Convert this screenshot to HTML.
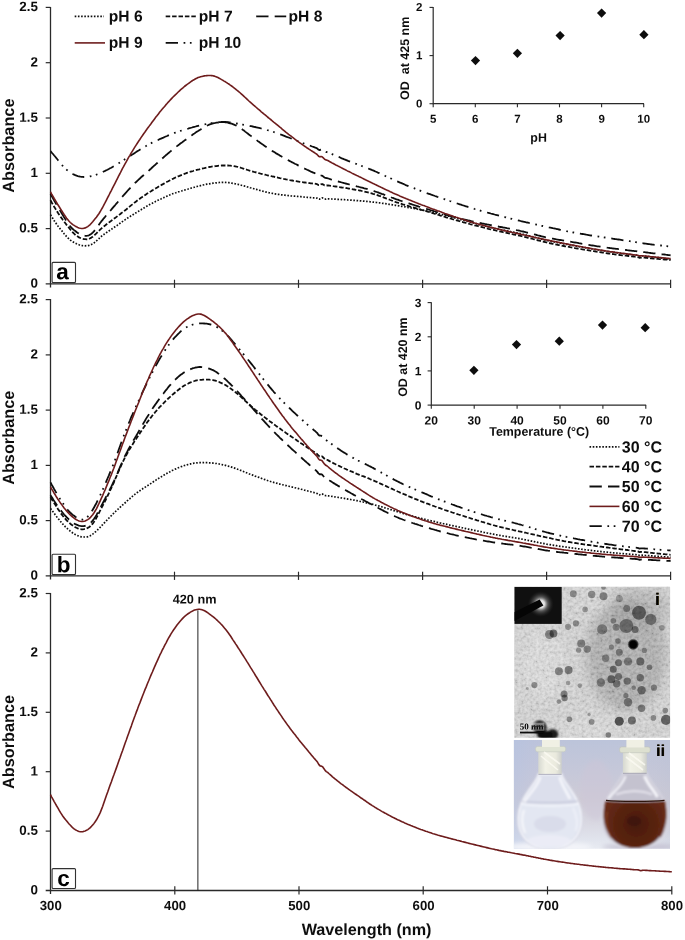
<!DOCTYPE html>
<html><head><meta charset="utf-8"><title>UV-Vis spectra</title>
<style>
html,body{margin:0;padding:0;background:#fff;}
body{width:685px;height:940px;position:relative;overflow:hidden;font-family:"Liberation Sans", sans-serif;}
</style></head><body>
<svg width="685" height="940" viewBox="0 0 685 940" style="position:absolute;left:0;top:0;font-family:'Liberation Sans', sans-serif;text-rendering:geometricPrecision">
<defs>
<filter id="soft" x="0" y="0" width="685" height="940" filterUnits="userSpaceOnUse"><feGaussianBlur stdDeviation="0.3"/></filter>
<filter id="b03" x="-20%" y="-20%" width="140%" height="140%"><feGaussianBlur stdDeviation="0.35"/></filter>
<filter id="b06" x="-30%" y="-30%" width="160%" height="160%"><feGaussianBlur stdDeviation="0.7"/></filter>
<filter id="b1" x="-30%" y="-30%" width="160%" height="160%"><feGaussianBlur stdDeviation="1.1"/></filter>
<filter id="b2" x="-30%" y="-30%" width="160%" height="160%"><feGaussianBlur stdDeviation="2.2"/></filter>
<filter id="b5" x="-50%" y="-50%" width="200%" height="200%"><feGaussianBlur stdDeviation="6"/></filter>
<filter id="noiseG" x="0" y="0" width="100%" height="100%">
  <feTurbulence type="fractalNoise" baseFrequency="0.33" numOctaves="2" seed="11"/>
  <feColorMatrix type="matrix" values="1.5 0 0 0 -0.25  1.5 0 0 0 -0.25  1.5 0 0 0 -0.25  0 0 0 0 1"/>
</filter>
<clipPath id="temclip"><rect x="514.3" y="586.8" width="155.8" height="151.0"/></clipPath>
<clipPath id="flclip"><rect x="513.9" y="740.0" width="156.1" height="108.8"/></clipPath>
<radialGradient id="glow" cx="540.8" cy="604.0" r="13" gradientUnits="userSpaceOnUse">
  <stop offset="0" stop-color="#fff" stop-opacity="1"/><stop offset="0.3" stop-color="#fff" stop-opacity="0.85"/>
  <stop offset="0.55" stop-color="#aaa" stop-opacity="0.45"/><stop offset="1" stop-color="#333" stop-opacity="0"/>
</radialGradient>
<linearGradient id="flbg" x1="0" y1="740" x2="0" y2="849" gradientUnits="userSpaceOnUse">
  <stop offset="0" stop-color="#bcc4da"/><stop offset="0.3" stop-color="#c6c8d9"/><stop offset="0.55" stop-color="#cfccd6"/>
  <stop offset="0.75" stop-color="#d8d7e1"/><stop offset="0.9" stop-color="#e0e3ec"/><stop offset="1" stop-color="#e8ebf2"/>
</linearGradient>
<linearGradient id="flbgx" x1="514" y1="0" x2="670" y2="0" gradientUnits="userSpaceOnUse">
  <stop offset="0" stop-color="#b2c2e4" stop-opacity="0.45"/><stop offset="0.35" stop-color="#c8c0d8" stop-opacity="0.0"/>
  <stop offset="0.8" stop-color="#c0c2d2" stop-opacity="0.0"/><stop offset="1" stop-color="#bcc0d2" stop-opacity="0.35"/>
</linearGradient>
<radialGradient id="brown" cx="636" cy="824" r="36" gradientUnits="userSpaceOnUse">
  <stop offset="0" stop-color="#48190c"/><stop offset="0.6" stop-color="#5a2411"/><stop offset="1" stop-color="#6a2c15"/>
</radialGradient>
<linearGradient id="stop1" x1="0" y1="0" x2="1" y2="0">
  <stop offset="0" stop-color="#d6d8d0"/><stop offset="0.3" stop-color="#f1f1e6"/><stop offset="0.75" stop-color="#eaeade"/><stop offset="1" stop-color="#cdcfca"/>
</linearGradient>
</defs>

<rect width="685" height="940" fill="#fff"/>
<g filter="url(#soft)">
<path d="M50.5 6.9 V287.5" stroke="#2a2a2a" stroke-width="1.3" fill="none"/>
<path d="M45.7 283.9 H670.6" stroke="#2a2a2a" stroke-width="1.3" fill="none"/>
<text transform="rotate(0.05 37.9 287.6)" x="37.9" y="287.6" font-size="13.4" font-weight="bold" text-anchor="end" fill="#111">0</text>
<path d="M45.7 228.6 H50.5" stroke="#2a2a2a" stroke-width="1.2" fill="none"/>
<text transform="rotate(0.05 37.9 232.3)" x="37.9" y="232.3" font-size="13.4" font-weight="bold" text-anchor="end" fill="#111">0.5</text>
<path d="M45.7 173.3 H50.5" stroke="#2a2a2a" stroke-width="1.2" fill="none"/>
<text transform="rotate(0.05 37.9 177.0)" x="37.9" y="177.0" font-size="13.4" font-weight="bold" text-anchor="end" fill="#111">1</text>
<path d="M45.7 118.0 H50.5" stroke="#2a2a2a" stroke-width="1.2" fill="none"/>
<text transform="rotate(0.05 37.9 121.7)" x="37.9" y="121.7" font-size="13.4" font-weight="bold" text-anchor="end" fill="#111">1.5</text>
<path d="M45.7 62.7 H50.5" stroke="#2a2a2a" stroke-width="1.2" fill="none"/>
<text transform="rotate(0.05 37.9 66.4)" x="37.9" y="66.4" font-size="13.4" font-weight="bold" text-anchor="end" fill="#111">2</text>
<path d="M45.7 7.4 H50.5" stroke="#2a2a2a" stroke-width="1.2" fill="none"/>
<text transform="rotate(0.05 37.9 11.1)" x="37.9" y="11.1" font-size="13.4" font-weight="bold" text-anchor="end" fill="#111">2.5</text>
<path d="M174.5 279.7 V287.9" stroke="#2a2a2a" stroke-width="1.2" fill="none"/>
<path d="M298.5 279.7 V287.9" stroke="#2a2a2a" stroke-width="1.2" fill="none"/>
<path d="M422.6 279.7 V287.9" stroke="#2a2a2a" stroke-width="1.2" fill="none"/>
<path d="M546.6 279.7 V287.9" stroke="#2a2a2a" stroke-width="1.2" fill="none"/>
<path d="M670.6 279.7 V287.9" stroke="#2a2a2a" stroke-width="1.2" fill="none"/>
<text transform="translate(13.6 145.6) rotate(-90)" font-size="16.3" font-weight="bold" text-anchor="middle" fill="#111">Absorbance</text>
<path d="M50.5 299.1 V579.5" stroke="#2a2a2a" stroke-width="1.3" fill="none"/>
<path d="M45.7 575.9 H670.6" stroke="#2a2a2a" stroke-width="1.3" fill="none"/>
<text transform="rotate(0.05 37.9 579.6)" x="37.9" y="579.6" font-size="13.4" font-weight="bold" text-anchor="end" fill="#111">0</text>
<path d="M45.7 520.6 H50.5" stroke="#2a2a2a" stroke-width="1.2" fill="none"/>
<text transform="rotate(0.05 37.9 524.3)" x="37.9" y="524.3" font-size="13.4" font-weight="bold" text-anchor="end" fill="#111">0.5</text>
<path d="M45.7 465.4 H50.5" stroke="#2a2a2a" stroke-width="1.2" fill="none"/>
<text transform="rotate(0.05 37.9 469.1)" x="37.9" y="469.1" font-size="13.4" font-weight="bold" text-anchor="end" fill="#111">1</text>
<path d="M45.7 410.1 H50.5" stroke="#2a2a2a" stroke-width="1.2" fill="none"/>
<text transform="rotate(0.05 37.9 413.8)" x="37.9" y="413.8" font-size="13.4" font-weight="bold" text-anchor="end" fill="#111">1.5</text>
<path d="M45.7 354.9 H50.5" stroke="#2a2a2a" stroke-width="1.2" fill="none"/>
<text transform="rotate(0.05 37.9 358.6)" x="37.9" y="358.6" font-size="13.4" font-weight="bold" text-anchor="end" fill="#111">2</text>
<path d="M45.7 299.6 H50.5" stroke="#2a2a2a" stroke-width="1.2" fill="none"/>
<text transform="rotate(0.05 37.9 303.3)" x="37.9" y="303.3" font-size="13.4" font-weight="bold" text-anchor="end" fill="#111">2.5</text>
<path d="M174.5 571.7 V579.9" stroke="#2a2a2a" stroke-width="1.2" fill="none"/>
<path d="M298.5 571.7 V579.9" stroke="#2a2a2a" stroke-width="1.2" fill="none"/>
<path d="M422.6 571.7 V579.9" stroke="#2a2a2a" stroke-width="1.2" fill="none"/>
<path d="M546.6 571.7 V579.9" stroke="#2a2a2a" stroke-width="1.2" fill="none"/>
<path d="M670.6 571.7 V579.9" stroke="#2a2a2a" stroke-width="1.2" fill="none"/>
<text transform="translate(13.6 437.8) rotate(-90)" font-size="16.3" font-weight="bold" text-anchor="middle" fill="#111">Absorbance</text>
<path d="M50.5 593.0 V894.1" stroke="#2a2a2a" stroke-width="1.3" fill="none"/>
<path d="M45.7 890.5 H671.8" stroke="#2a2a2a" stroke-width="1.3" fill="none"/>
<text transform="rotate(0.05 37.9 894.2)" x="37.9" y="894.2" font-size="13.4" font-weight="bold" text-anchor="end" fill="#111">0</text>
<path d="M45.7 831.1 H50.5" stroke="#2a2a2a" stroke-width="1.2" fill="none"/>
<text transform="rotate(0.05 37.9 834.8)" x="37.9" y="834.8" font-size="13.4" font-weight="bold" text-anchor="end" fill="#111">0.5</text>
<path d="M45.7 771.7 H50.5" stroke="#2a2a2a" stroke-width="1.2" fill="none"/>
<text transform="rotate(0.05 37.9 775.4)" x="37.9" y="775.4" font-size="13.4" font-weight="bold" text-anchor="end" fill="#111">1</text>
<path d="M45.7 712.3 H50.5" stroke="#2a2a2a" stroke-width="1.2" fill="none"/>
<text transform="rotate(0.05 37.9 716.0)" x="37.9" y="716.0" font-size="13.4" font-weight="bold" text-anchor="end" fill="#111">1.5</text>
<path d="M45.7 652.9 H50.5" stroke="#2a2a2a" stroke-width="1.2" fill="none"/>
<text transform="rotate(0.05 37.9 656.6)" x="37.9" y="656.6" font-size="13.4" font-weight="bold" text-anchor="end" fill="#111">2</text>
<path d="M45.7 593.5 H50.5" stroke="#2a2a2a" stroke-width="1.2" fill="none"/>
<text transform="rotate(0.05 37.9 597.2)" x="37.9" y="597.2" font-size="13.4" font-weight="bold" text-anchor="end" fill="#111">2.5</text>
<path d="M174.8 886.3 V894.5" stroke="#2a2a2a" stroke-width="1.2" fill="none"/>
<path d="M299.0 886.3 V894.5" stroke="#2a2a2a" stroke-width="1.2" fill="none"/>
<path d="M423.2 886.3 V894.5" stroke="#2a2a2a" stroke-width="1.2" fill="none"/>
<path d="M547.5 886.3 V894.5" stroke="#2a2a2a" stroke-width="1.2" fill="none"/>
<path d="M671.8 886.3 V894.5" stroke="#2a2a2a" stroke-width="1.2" fill="none"/>
<text transform="translate(13.6 742.0) rotate(-90)" font-size="16.3" font-weight="bold" text-anchor="middle" fill="#111">Absorbance</text>
<text transform="rotate(0.05 50.8 910.0)" x="50.8" y="910.0" font-size="13.2" font-weight="bold" text-anchor="middle" fill="#111">300</text>
<text transform="rotate(0.05 175.1 910.0)" x="175.1" y="910.0" font-size="13.2" font-weight="bold" text-anchor="middle" fill="#111">400</text>
<text transform="rotate(0.05 299.3 910.0)" x="299.3" y="910.0" font-size="13.2" font-weight="bold" text-anchor="middle" fill="#111">500</text>
<text transform="rotate(0.05 423.6 910.0)" x="423.6" y="910.0" font-size="13.2" font-weight="bold" text-anchor="middle" fill="#111">600</text>
<text transform="rotate(0.05 547.8 910.0)" x="547.8" y="910.0" font-size="13.2" font-weight="bold" text-anchor="middle" fill="#111">700</text>
<text transform="rotate(0.05 672.0 910.0)" x="672.0" y="910.0" font-size="13.2" font-weight="bold" text-anchor="middle" fill="#111">800</text>
<text transform="rotate(0.05 366.6 935.1)" x="366.6" y="935.1" font-size="16.2" font-weight="bold" text-anchor="middle" fill="#111">Wavelength (nm)</text>
<path d="M50.5,214.8 L51.7,216.8 L53.0,218.7 L54.2,220.7 L55.5,222.5 L56.7,224.3 L57.9,226.0 L59.2,227.6 L60.4,229.1 L61.7,230.6 L62.9,232.1 L64.1,233.7 L65.4,235.2 L66.6,236.6 L67.9,237.9 L69.1,239.1 L70.3,240.1 L71.6,241.0 L72.8,241.8 L74.1,242.5 L75.3,243.1 L76.5,243.7 L77.8,244.3 L79.0,244.8 L80.3,245.2 L81.5,245.5 L82.7,245.7 L84.0,245.8 L85.2,245.8 L86.5,245.7 L87.7,245.6 L88.9,245.4 L90.2,245.0 L91.4,244.4 L92.7,243.8 L93.9,243.0 L95.1,242.0 L96.4,241.0 L97.6,239.8 L98.9,238.6 L100.1,237.4 L101.3,236.4 L102.6,235.4 L103.8,234.5 L105.1,233.6 L106.3,232.7 L107.5,231.9 L108.8,231.0 L110.0,230.2 L111.3,229.4 L112.5,228.5 L113.8,227.7 L115.0,226.8 L116.2,226.0 L117.5,225.1 L118.7,224.2 L120.0,223.3 L121.2,222.5 L122.4,221.6 L123.7,220.7 L124.9,219.9 L126.2,219.1 L127.4,218.2 L128.6,217.4 L129.9,216.6 L131.1,215.8 L132.4,215.1 L133.6,214.3 L134.8,213.5 L136.1,212.7 L137.3,212.0 L138.6,211.2 L139.8,210.4 L141.0,209.7 L142.3,208.9 L143.5,208.2 L144.8,207.4 L146.0,206.7 L147.2,206.0 L148.5,205.3 L149.7,204.6 L151.0,203.9 L152.2,203.3 L153.4,202.6 L154.7,202.0 L155.9,201.3 L157.2,200.7 L158.4,200.1 L159.6,199.5 L160.9,198.9 L162.1,198.3 L163.4,197.8 L164.6,197.2 L165.8,196.6 L167.1,196.1 L168.3,195.5 L169.6,195.0 L170.8,194.5 L172.0,194.0 L173.3,193.5 L174.5,193.1 L175.8,192.7 L177.0,192.3 L178.2,191.9 L179.5,191.5 L180.7,191.1 L182.0,190.8 L183.2,190.4 L184.4,190.1 L185.7,189.7 L186.9,189.4 L188.2,189.0 L189.4,188.6 L190.6,188.3 L191.9,187.9 L193.1,187.6 L194.4,187.2 L195.6,186.9 L196.8,186.5 L198.1,186.2 L199.3,185.9 L200.6,185.6 L201.8,185.3 L203.0,185.0 L204.3,184.7 L205.5,184.5 L206.8,184.2 L208.0,184.0 L209.2,183.8 L210.5,183.6 L211.7,183.4 L213.0,183.2 L214.2,183.1 L215.4,182.9 L216.7,182.8 L217.9,182.6 L219.2,182.5 L220.4,182.4 L221.6,182.4 L222.9,182.3 L224.1,182.3 L225.4,182.4 L226.6,182.5 L227.8,182.6 L229.1,182.7 L230.3,182.9 L231.6,183.1 L232.8,183.3 L234.0,183.6 L235.3,183.8 L236.5,184.1 L237.8,184.3 L239.0,184.6 L240.3,184.9 L241.5,185.3 L242.7,185.6 L244.0,185.9 L245.2,186.3 L246.5,186.6 L247.7,187.0 L248.9,187.3 L250.2,187.7 L251.4,188.0 L252.7,188.4 L253.9,188.7 L255.1,189.1 L256.4,189.4 L257.6,189.8 L258.9,190.1 L260.1,190.5 L261.3,190.8 L262.6,191.1 L263.8,191.5 L265.1,191.8 L266.3,192.1 L267.5,192.4 L268.8,192.7 L270.0,192.9 L271.3,193.2 L272.5,193.4 L273.7,193.7 L275.0,193.9 L276.2,194.1 L277.5,194.3 L278.7,194.4 L279.9,194.6 L281.2,194.8 L282.4,194.9 L283.7,195.1 L284.9,195.2 L286.1,195.4 L287.4,195.5 L288.6,195.6 L289.9,195.7 L291.1,195.9 L292.3,196.0 L293.6,196.1 L294.8,196.2 L296.1,196.3 L297.3,196.4 L298.5,196.5 L299.8,196.6 L301.0,196.7 L302.3,196.9 L303.5,197.0 L304.7,197.1 L306.0,197.2 L307.2,197.3 L308.5,197.4 L309.7,197.5 L310.9,197.6 L312.2,197.7 L313.4,197.8 L314.7,197.9 L315.9,198.0 L317.1,198.2 L318.4,199.1 L319.6,199.2 L320.9,198.2 L322.1,197.8 L323.3,198.3 L324.6,199.0 L325.8,199.1 L327.1,198.8 L328.3,198.8 L329.5,198.9 L330.8,199.0 L332.0,199.0 L333.3,199.1 L334.5,199.2 L335.7,199.2 L337.0,199.3 L338.2,199.4 L339.5,199.4 L340.7,199.5 L341.9,199.6 L343.2,199.7 L344.4,199.7 L345.7,199.8 L346.9,199.9 L348.1,200.0 L349.4,200.0 L350.6,200.1 L351.9,200.2 L353.1,200.3 L354.3,200.4 L355.6,200.5 L356.8,200.6 L358.1,200.7 L359.3,200.8 L360.6,200.9 L361.8,201.0 L363.0,201.1 L364.3,201.2 L365.5,201.3 L366.8,201.4 L368.0,201.5 L369.2,201.7 L370.5,201.8 L371.7,201.9 L373.0,202.1 L374.2,202.2 L375.4,202.4 L376.7,202.5 L377.9,202.7 L379.2,202.8 L380.4,203.0 L381.6,203.2 L382.9,203.4 L384.1,203.5 L385.4,203.7 L386.6,203.9 L387.8,204.1 L389.1,204.3 L390.3,204.5 L391.6,204.7 L392.8,204.9 L394.0,205.1 L395.3,205.3 L396.5,205.5 L397.8,205.7 L399.0,205.9 L400.2,206.1 L401.5,206.3 L402.7,206.5 L404.0,206.7 L405.2,206.9 L406.4,207.2 L407.7,207.4 L408.9,207.6 L410.2,207.8 L411.4,208.0 L412.6,208.2 L413.9,208.5 L415.1,208.7 L416.4,208.9 L417.6,209.2 L418.8,209.4 L420.1,209.6 L421.3,209.9 L422.6,210.1 L423.8,210.4 L425.0,210.6 L426.3,210.9 L427.5,211.2 L428.8,211.4 L430.0,211.7 L431.2,212.0 L432.5,212.3 L433.7,212.6 L435.0,212.8 L436.2,213.1 L437.4,213.4 L438.7,213.7 L439.9,214.0 L441.2,214.3 L442.4,214.6 L443.6,214.9 L444.9,215.3 L446.1,215.6 L447.4,215.9 L448.6,216.2 L449.8,216.5 L451.1,216.9 L452.3,217.2 L453.6,217.5 L454.8,217.9 L456.0,218.2 L457.3,218.5 L458.5,218.9 L459.8,219.2 L461.0,219.6 L462.2,219.9 L463.5,220.2 L464.7,220.6 L466.0,220.9 L467.2,221.3 L468.4,221.6 L469.7,222.0 L470.9,222.3 L472.2,222.6 L473.4,223.0 L474.6,223.3 L475.9,223.6 L477.1,223.9 L478.4,224.3 L479.6,224.6 L480.8,224.9 L482.1,225.2 L483.3,225.6 L484.6,225.9 L485.8,226.2 L487.1,226.5 L488.3,226.8 L489.5,227.1 L490.8,227.4 L492.0,227.7 L493.3,228.0 L494.5,228.3 L495.7,228.5 L497.0,228.8 L498.2,229.1 L499.5,229.3 L500.7,229.6 L501.9,229.9 L503.2,230.1 L504.4,230.3 L505.7,230.6 L506.9,230.8 L508.1,231.1 L509.4,231.3 L510.6,231.6 L511.9,231.8 L513.1,232.0 L514.3,232.3 L515.6,232.5 L516.8,232.8 L518.1,233.1 L519.3,233.3 L520.5,233.6 L521.8,233.9 L523.0,234.2 L524.3,234.5 L525.5,234.8 L526.7,235.2 L528.0,235.5 L529.2,235.8 L530.5,236.2 L531.7,236.5 L532.9,236.8 L534.2,237.2 L535.4,237.5 L536.7,237.9 L537.9,238.2 L539.1,238.5 L540.4,238.9 L541.6,239.2 L542.9,239.5 L544.1,239.8 L545.3,240.1 L546.6,240.4 L547.8,240.7 L549.1,241.0 L550.3,241.3 L551.5,241.5 L552.8,241.8 L554.0,242.0 L555.3,242.3 L556.5,242.5 L557.7,242.7 L559.0,243.0 L560.2,243.2 L561.5,243.4 L562.7,243.6 L563.9,243.9 L565.2,244.1 L566.4,244.3 L567.7,244.5 L568.9,244.7 L570.1,245.0 L571.4,245.2 L572.6,245.4 L573.9,245.6 L575.1,245.9 L576.3,246.1 L577.6,246.3 L578.8,246.5 L580.1,246.8 L581.3,247.0 L582.5,247.2 L583.8,247.4 L585.0,247.7 L586.3,247.9 L587.5,248.1 L588.7,248.3 L590.0,248.6 L591.2,248.8 L592.5,249.0 L593.7,249.2 L594.9,249.4 L596.2,249.6 L597.4,249.8 L598.7,250.0 L599.9,250.2 L601.1,250.4 L602.4,250.6 L603.6,250.8 L604.9,251.0 L606.1,251.2 L607.3,251.4 L608.6,251.5 L609.8,251.7 L611.1,251.9 L612.3,252.1 L613.6,252.3 L614.8,252.4 L616.0,252.6 L617.3,252.8 L618.5,252.9 L619.8,253.1 L621.0,253.3 L622.2,253.4 L623.5,253.6 L624.7,253.7 L626.0,253.9 L627.2,254.0 L628.4,254.2 L629.7,254.3 L630.9,254.5 L632.2,254.6 L633.4,254.8 L634.6,254.9 L635.9,255.1 L637.1,255.2 L638.4,255.6 L639.6,256.2 L640.8,255.9 L642.1,255.8 L643.3,256.0 L644.6,256.1 L645.8,256.3 L647.0,256.4 L648.3,256.5 L649.5,256.7 L650.8,256.8 L652.0,257.0 L653.2,257.1 L654.5,257.3 L655.7,257.4 L657.0,257.6 L658.2,257.7 L659.4,257.9 L660.7,258.0 L661.9,258.2 L663.2,258.3 L664.4,258.5 L665.6,258.6 L666.9,258.8 L668.1,258.9 L669.4,259.1 L670.6,259.2" fill="none" stroke="#111" stroke-width="1.7" stroke-dasharray="1.6 1.6" stroke-linejoin="round"/>
<path d="M50.5,200.3 L51.7,202.5 L53.0,204.7 L54.2,206.8 L55.5,208.9 L56.7,210.9 L57.9,212.8 L59.2,214.7 L60.4,216.5 L61.7,218.3 L62.9,220.0 L64.1,221.6 L65.4,223.3 L66.6,224.9 L67.9,226.4 L69.1,227.9 L70.3,229.5 L71.6,230.9 L72.8,232.4 L74.1,233.7 L75.3,234.8 L76.5,235.8 L77.8,236.6 L79.0,237.4 L80.3,238.0 L81.5,238.4 L82.7,238.8 L84.0,239.1 L85.2,239.2 L86.5,239.3 L87.7,239.2 L88.9,238.9 L90.2,238.3 L91.4,237.6 L92.7,236.7 L93.9,235.7 L95.1,234.6 L96.4,233.4 L97.6,232.2 L98.9,230.9 L100.1,229.7 L101.3,228.6 L102.6,227.5 L103.8,226.5 L105.1,225.5 L106.3,224.5 L107.5,223.5 L108.8,222.6 L110.0,221.7 L111.3,220.8 L112.5,219.8 L113.8,218.9 L115.0,218.0 L116.2,217.1 L117.5,216.1 L118.7,215.2 L120.0,214.3 L121.2,213.3 L122.4,212.4 L123.7,211.4 L124.9,210.5 L126.2,209.5 L127.4,208.5 L128.6,207.5 L129.9,206.4 L131.1,205.4 L132.4,204.4 L133.6,203.4 L134.8,202.4 L136.1,201.5 L137.3,200.5 L138.6,199.6 L139.8,198.7 L141.0,197.8 L142.3,196.9 L143.5,196.1 L144.8,195.2 L146.0,194.4 L147.2,193.6 L148.5,192.8 L149.7,192.0 L151.0,191.2 L152.2,190.4 L153.4,189.7 L154.7,188.9 L155.9,188.2 L157.2,187.5 L158.4,186.7 L159.6,186.0 L160.9,185.3 L162.1,184.6 L163.4,183.9 L164.6,183.2 L165.8,182.5 L167.1,181.8 L168.3,181.2 L169.6,180.5 L170.8,179.8 L172.0,179.2 L173.3,178.6 L174.5,178.0 L175.8,177.4 L177.0,176.9 L178.2,176.3 L179.5,175.8 L180.7,175.3 L182.0,174.8 L183.2,174.3 L184.4,173.8 L185.7,173.4 L186.9,172.9 L188.2,172.5 L189.4,172.1 L190.6,171.7 L191.9,171.3 L193.1,171.0 L194.4,170.6 L195.6,170.2 L196.8,169.9 L198.1,169.6 L199.3,169.3 L200.6,168.9 L201.8,168.6 L203.0,168.3 L204.3,168.1 L205.5,167.8 L206.8,167.5 L208.0,167.3 L209.2,167.0 L210.5,166.8 L211.7,166.6 L213.0,166.4 L214.2,166.3 L215.4,166.1 L216.7,166.0 L217.9,165.8 L219.2,165.7 L220.4,165.6 L221.6,165.5 L222.9,165.5 L224.1,165.4 L225.4,165.5 L226.6,165.5 L227.8,165.5 L229.1,165.6 L230.3,165.7 L231.6,165.9 L232.8,166.0 L234.0,166.2 L235.3,166.4 L236.5,166.7 L237.8,166.9 L239.0,167.2 L240.3,167.6 L241.5,168.0 L242.7,168.4 L244.0,168.8 L245.2,169.2 L246.5,169.6 L247.7,170.0 L248.9,170.4 L250.2,170.8 L251.4,171.2 L252.7,171.5 L253.9,171.9 L255.1,172.2 L256.4,172.5 L257.6,172.9 L258.9,173.2 L260.1,173.5 L261.3,173.8 L262.6,174.1 L263.8,174.4 L265.1,174.7 L266.3,175.0 L267.5,175.3 L268.8,175.6 L270.0,175.9 L271.3,176.2 L272.5,176.5 L273.7,176.7 L275.0,177.0 L276.2,177.3 L277.5,177.5 L278.7,177.8 L279.9,178.1 L281.2,178.3 L282.4,178.6 L283.7,178.9 L284.9,179.1 L286.1,179.4 L287.4,179.6 L288.6,179.8 L289.9,180.1 L291.1,180.3 L292.3,180.5 L293.6,180.8 L294.8,181.0 L296.1,181.2 L297.3,181.4 L298.5,181.6 L299.8,181.8 L301.0,182.0 L302.3,182.1 L303.5,182.3 L304.7,182.5 L306.0,182.7 L307.2,182.8 L308.5,183.0 L309.7,183.1 L310.9,183.3 L312.2,183.4 L313.4,183.6 L314.7,183.7 L315.9,183.9 L317.1,184.2 L318.4,185.1 L319.6,185.3 L320.9,184.4 L322.1,184.0 L323.3,184.6 L324.6,185.4 L325.8,185.6 L327.1,185.4 L328.3,185.5 L329.5,185.6 L330.8,185.8 L332.0,186.0 L333.3,186.2 L334.5,186.3 L335.7,186.5 L337.0,186.7 L338.2,186.9 L339.5,187.1 L340.7,187.3 L341.9,187.5 L343.2,187.6 L344.4,187.8 L345.7,188.0 L346.9,188.2 L348.1,188.5 L349.4,188.7 L350.6,188.9 L351.9,189.1 L353.1,189.3 L354.3,189.5 L355.6,189.8 L356.8,190.0 L358.1,190.2 L359.3,190.5 L360.6,190.7 L361.8,191.0 L363.0,191.3 L364.3,191.5 L365.5,191.8 L366.8,192.1 L368.0,192.4 L369.2,192.7 L370.5,193.1 L371.7,193.4 L373.0,193.8 L374.2,194.1 L375.4,194.5 L376.7,194.9 L377.9,195.3 L379.2,195.8 L380.4,196.2 L381.6,196.7 L382.9,197.1 L384.1,197.6 L385.4,198.1 L386.6,198.6 L387.8,199.0 L389.1,199.5 L390.3,200.0 L391.6,200.5 L392.8,200.9 L394.0,201.4 L395.3,201.9 L396.5,202.3 L397.8,202.7 L399.0,203.1 L400.2,203.5 L401.5,203.9 L402.7,204.3 L404.0,204.7 L405.2,205.1 L406.4,205.5 L407.7,205.8 L408.9,206.2 L410.2,206.6 L411.4,206.9 L412.6,207.3 L413.9,207.6 L415.1,208.0 L416.4,208.3 L417.6,208.7 L418.8,209.0 L420.1,209.4 L421.3,209.8 L422.6,210.1 L423.8,210.5 L425.0,210.9 L426.3,211.2 L427.5,211.6 L428.8,212.0 L430.0,212.4 L431.2,212.7 L432.5,213.1 L433.7,213.5 L435.0,213.9 L436.2,214.3 L437.4,214.6 L438.7,215.0 L439.9,215.4 L441.2,215.8 L442.4,216.2 L443.6,216.5 L444.9,216.9 L446.1,217.3 L447.4,217.7 L448.6,218.0 L449.8,218.4 L451.1,218.7 L452.3,219.1 L453.6,219.5 L454.8,219.8 L456.0,220.2 L457.3,220.5 L458.5,220.9 L459.8,221.2 L461.0,221.6 L462.2,221.9 L463.5,222.3 L464.7,222.6 L466.0,222.9 L467.2,223.3 L468.4,223.6 L469.7,224.0 L470.9,224.3 L472.2,224.6 L473.4,224.9 L474.6,225.3 L475.9,225.6 L477.1,225.9 L478.4,226.2 L479.6,226.6 L480.8,226.9 L482.1,227.2 L483.3,227.5 L484.6,227.8 L485.8,228.1 L487.1,228.4 L488.3,228.8 L489.5,229.1 L490.8,229.4 L492.0,229.7 L493.3,229.9 L494.5,230.2 L495.7,230.5 L497.0,230.8 L498.2,231.1 L499.5,231.4 L500.7,231.6 L501.9,231.9 L503.2,232.2 L504.4,232.4 L505.7,232.7 L506.9,233.0 L508.1,233.2 L509.4,233.5 L510.6,233.8 L511.9,234.0 L513.1,234.3 L514.3,234.6 L515.6,234.8 L516.8,235.1 L518.1,235.4 L519.3,235.7 L520.5,235.9 L521.8,236.2 L523.0,236.5 L524.3,236.8 L525.5,237.1 L526.7,237.4 L528.0,237.8 L529.2,238.1 L530.5,238.4 L531.7,238.7 L532.9,239.0 L534.2,239.3 L535.4,239.7 L536.7,240.0 L537.9,240.3 L539.1,240.6 L540.4,240.9 L541.6,241.2 L542.9,241.5 L544.1,241.8 L545.3,242.1 L546.6,242.4 L547.8,242.7 L549.1,243.0 L550.3,243.3 L551.5,243.5 L552.8,243.8 L554.0,244.1 L555.3,244.3 L556.5,244.6 L557.7,244.8 L559.0,245.1 L560.2,245.3 L561.5,245.5 L562.7,245.8 L563.9,246.0 L565.2,246.3 L566.4,246.5 L567.7,246.7 L568.9,246.9 L570.1,247.2 L571.4,247.4 L572.6,247.6 L573.9,247.8 L575.1,248.1 L576.3,248.3 L577.6,248.5 L578.8,248.7 L580.1,248.9 L581.3,249.2 L582.5,249.4 L583.8,249.6 L585.0,249.8 L586.3,250.0 L587.5,250.2 L588.7,250.4 L590.0,250.6 L591.2,250.8 L592.5,251.0 L593.7,251.2 L594.9,251.4 L596.2,251.6 L597.4,251.8 L598.7,252.0 L599.9,252.2 L601.1,252.4 L602.4,252.6 L603.6,252.7 L604.9,252.9 L606.1,253.1 L607.3,253.3 L608.6,253.5 L609.8,253.7 L611.1,253.8 L612.3,254.0 L613.6,254.2 L614.8,254.3 L616.0,254.5 L617.3,254.7 L618.5,254.8 L619.8,255.0 L621.0,255.1 L622.2,255.3 L623.5,255.4 L624.7,255.6 L626.0,255.7 L627.2,255.9 L628.4,256.0 L629.7,256.2 L630.9,256.3 L632.2,256.4 L633.4,256.6 L634.6,256.7 L635.9,256.8 L637.1,257.0 L638.4,257.3 L639.6,257.9 L640.8,257.6 L642.1,257.5 L643.3,257.6 L644.6,257.7 L645.8,257.8 L647.0,257.9 L648.3,258.0 L649.5,258.1 L650.8,258.3 L652.0,258.4 L653.2,258.5 L654.5,258.6 L655.7,258.7 L657.0,258.8 L658.2,258.9 L659.4,259.1 L660.7,259.2 L661.9,259.3 L663.2,259.4 L664.4,259.5 L665.6,259.6 L666.9,259.7 L668.1,259.8 L669.4,259.9 L670.6,260.0" fill="none" stroke="#111" stroke-width="1.8" stroke-dasharray="4.5 1.9" stroke-linejoin="round"/>
<path d="M50.5,193.9 L51.7,196.1 L53.0,198.4 L54.2,200.6 L55.5,202.8 L56.7,204.9 L57.9,207.0 L59.2,209.1 L60.4,211.1 L61.7,213.2 L62.9,215.2 L64.1,217.3 L65.4,219.4 L66.6,221.5 L67.9,223.4 L69.1,225.1 L70.3,226.5 L71.6,227.8 L72.8,229.0 L74.1,230.1 L75.3,231.0 L76.5,232.0 L77.8,232.9 L79.0,233.7 L80.3,234.4 L81.5,234.9 L82.7,235.3 L84.0,235.6 L85.2,235.8 L86.5,235.8 L87.7,235.7 L88.9,235.3 L90.2,234.6 L91.4,233.7 L92.7,232.6 L93.9,231.4 L95.1,229.9 L96.4,228.3 L97.6,226.6 L98.9,224.8 L100.1,223.1 L101.3,221.4 L102.6,219.9 L103.8,218.3 L105.1,216.8 L106.3,215.3 L107.5,213.9 L108.8,212.5 L110.0,211.0 L111.3,209.6 L112.5,208.2 L113.8,206.7 L115.0,205.3 L116.2,203.8 L117.5,202.4 L118.7,200.9 L120.0,199.5 L121.2,198.0 L122.4,196.6 L123.7,195.2 L124.9,193.8 L126.2,192.4 L127.4,191.0 L128.6,189.7 L129.9,188.3 L131.1,187.0 L132.4,185.7 L133.6,184.4 L134.8,183.2 L136.1,182.0 L137.3,180.8 L138.6,179.6 L139.8,178.5 L141.0,177.3 L142.3,176.2 L143.5,175.2 L144.8,174.1 L146.0,173.0 L147.2,171.9 L148.5,170.9 L149.7,169.8 L151.0,168.7 L152.2,167.5 L153.4,166.4 L154.7,165.3 L155.9,164.2 L157.2,163.0 L158.4,161.9 L159.6,160.8 L160.9,159.7 L162.1,158.6 L163.4,157.5 L164.6,156.4 L165.8,155.3 L167.1,154.3 L168.3,153.2 L169.6,152.1 L170.8,151.1 L172.0,150.1 L173.3,149.1 L174.5,148.1 L175.8,147.1 L177.0,146.1 L178.2,145.2 L179.5,144.3 L180.7,143.3 L182.0,142.4 L183.2,141.5 L184.4,140.6 L185.7,139.7 L186.9,138.8 L188.2,137.9 L189.4,137.0 L190.6,136.1 L191.9,135.2 L193.1,134.3 L194.4,133.5 L195.6,132.6 L196.8,131.8 L198.1,131.0 L199.3,130.2 L200.6,129.4 L201.8,128.6 L203.0,127.9 L204.3,127.1 L205.5,126.4 L206.8,125.8 L208.0,125.2 L209.2,124.6 L210.5,124.1 L211.7,123.8 L213.0,123.4 L214.2,123.1 L215.4,122.9 L216.7,122.6 L217.9,122.5 L219.2,122.3 L220.4,122.2 L221.6,122.2 L222.9,122.2 L224.1,122.2 L225.4,122.3 L226.6,122.4 L227.8,122.7 L229.1,123.0 L230.3,123.3 L231.6,123.7 L232.8,124.1 L234.0,124.6 L235.3,125.2 L236.5,125.7 L237.8,126.4 L239.0,127.1 L240.3,127.9 L241.5,128.8 L242.7,129.7 L244.0,130.6 L245.2,131.6 L246.5,132.6 L247.7,133.5 L248.9,134.5 L250.2,135.4 L251.4,136.3 L252.7,137.2 L253.9,138.2 L255.1,139.1 L256.4,140.0 L257.6,140.9 L258.9,141.8 L260.1,142.7 L261.3,143.6 L262.6,144.4 L263.8,145.3 L265.1,146.2 L266.3,147.0 L267.5,147.8 L268.8,148.7 L270.0,149.5 L271.3,150.3 L272.5,151.1 L273.7,151.8 L275.0,152.6 L276.2,153.4 L277.5,154.1 L278.7,154.8 L279.9,155.6 L281.2,156.3 L282.4,157.0 L283.7,157.7 L284.9,158.4 L286.1,159.1 L287.4,159.7 L288.6,160.4 L289.9,161.1 L291.1,161.7 L292.3,162.4 L293.6,163.0 L294.8,163.7 L296.1,164.3 L297.3,164.9 L298.5,165.6 L299.8,166.2 L301.0,166.8 L302.3,167.4 L303.5,168.0 L304.7,168.6 L306.0,169.2 L307.2,169.8 L308.5,170.4 L309.7,171.0 L310.9,171.6 L312.2,172.1 L313.4,172.7 L314.7,173.2 L315.9,173.8 L317.1,174.4 L318.4,175.7 L319.6,176.2 L320.9,175.7 L322.1,175.6 L323.3,176.5 L324.6,177.6 L325.8,178.0 L327.1,178.1 L328.3,178.5 L329.5,178.9 L330.8,179.3 L332.0,179.6 L333.3,180.0 L334.5,180.4 L335.7,180.8 L337.0,181.1 L338.2,181.5 L339.5,181.8 L340.7,182.2 L341.9,182.5 L343.2,182.8 L344.4,183.2 L345.7,183.5 L346.9,183.8 L348.1,184.1 L349.4,184.5 L350.6,184.8 L351.9,185.1 L353.1,185.4 L354.3,185.7 L355.6,186.0 L356.8,186.4 L358.1,186.7 L359.3,187.0 L360.6,187.3 L361.8,187.6 L363.0,187.9 L364.3,188.3 L365.5,188.6 L366.8,188.9 L368.0,189.3 L369.2,189.7 L370.5,190.0 L371.7,190.4 L373.0,190.8 L374.2,191.2 L375.4,191.6 L376.7,192.0 L377.9,192.4 L379.2,192.9 L380.4,193.3 L381.6,193.8 L382.9,194.2 L384.1,194.7 L385.4,195.1 L386.6,195.6 L387.8,196.1 L389.1,196.6 L390.3,197.0 L391.6,197.5 L392.8,197.9 L394.0,198.4 L395.3,198.9 L396.5,199.3 L397.8,199.7 L399.0,200.2 L400.2,200.6 L401.5,201.0 L402.7,201.4 L404.0,201.8 L405.2,202.2 L406.4,202.7 L407.7,203.1 L408.9,203.4 L410.2,203.8 L411.4,204.2 L412.6,204.6 L413.9,205.0 L415.1,205.4 L416.4,205.8 L417.6,206.2 L418.8,206.6 L420.1,206.9 L421.3,207.3 L422.6,207.7 L423.8,208.1 L425.0,208.5 L426.3,208.8 L427.5,209.2 L428.8,209.6 L430.0,210.0 L431.2,210.4 L432.5,210.7 L433.7,211.1 L435.0,211.5 L436.2,211.9 L437.4,212.2 L438.7,212.6 L439.9,213.0 L441.2,213.3 L442.4,213.7 L443.6,214.1 L444.9,214.4 L446.1,214.8 L447.4,215.1 L448.6,215.4 L449.8,215.8 L451.1,216.1 L452.3,216.5 L453.6,216.8 L454.8,217.1 L456.0,217.4 L457.3,217.7 L458.5,218.1 L459.8,218.4 L461.0,218.7 L462.2,219.0 L463.5,219.3 L464.7,219.6 L466.0,219.9 L467.2,220.2 L468.4,220.5 L469.7,220.7 L470.9,221.0 L472.2,221.3 L473.4,221.6 L474.6,221.8 L475.9,222.1 L477.1,222.4 L478.4,222.6 L479.6,222.9 L480.8,223.1 L482.1,223.4 L483.3,223.6 L484.6,223.9 L485.8,224.1 L487.1,224.4 L488.3,224.6 L489.5,224.8 L490.8,225.1 L492.0,225.3 L493.3,225.6 L494.5,225.8 L495.7,226.0 L497.0,226.3 L498.2,226.5 L499.5,226.8 L500.7,227.0 L501.9,227.2 L503.2,227.5 L504.4,227.7 L505.7,227.9 L506.9,228.2 L508.1,228.4 L509.4,228.6 L510.6,228.9 L511.9,229.1 L513.1,229.4 L514.3,229.6 L515.6,229.9 L516.8,230.2 L518.1,230.4 L519.3,230.7 L520.5,231.0 L521.8,231.3 L523.0,231.5 L524.3,231.8 L525.5,232.1 L526.7,232.5 L528.0,232.8 L529.2,233.1 L530.5,233.4 L531.7,233.7 L532.9,234.1 L534.2,234.4 L535.4,234.7 L536.7,235.0 L537.9,235.4 L539.1,235.7 L540.4,236.0 L541.6,236.3 L542.9,236.6 L544.1,236.9 L545.3,237.2 L546.6,237.4 L547.8,237.7 L549.1,238.0 L550.3,238.2 L551.5,238.5 L552.8,238.7 L554.0,238.9 L555.3,239.1 L556.5,239.4 L557.7,239.6 L559.0,239.8 L560.2,240.0 L561.5,240.2 L562.7,240.4 L563.9,240.6 L565.2,240.8 L566.4,241.0 L567.7,241.2 L568.9,241.5 L570.1,241.7 L571.4,241.9 L572.6,242.1 L573.9,242.3 L575.1,242.5 L576.3,242.7 L577.6,242.9 L578.8,243.2 L580.1,243.4 L581.3,243.6 L582.5,243.8 L583.8,244.0 L585.0,244.2 L586.3,244.5 L587.5,244.7 L588.7,244.9 L590.0,245.1 L591.2,245.3 L592.5,245.5 L593.7,245.7 L594.9,245.9 L596.2,246.1 L597.4,246.3 L598.7,246.4 L599.9,246.6 L601.1,246.8 L602.4,247.0 L603.6,247.2 L604.9,247.3 L606.1,247.5 L607.3,247.7 L608.6,247.8 L609.8,248.0 L611.1,248.1 L612.3,248.3 L613.6,248.5 L614.8,248.6 L616.0,248.8 L617.3,248.9 L618.5,249.1 L619.8,249.2 L621.0,249.4 L622.2,249.5 L623.5,249.7 L624.7,249.9 L626.0,250.0 L627.2,250.2 L628.4,250.3 L629.7,250.5 L630.9,250.6 L632.2,250.8 L633.4,250.9 L634.6,251.1 L635.9,251.2 L637.1,251.4 L638.4,251.7 L639.6,252.3 L640.8,252.0 L642.1,252.0 L643.3,252.1 L644.6,252.2 L645.8,252.4 L647.0,252.5 L648.3,252.7 L649.5,252.8 L650.8,253.0 L652.0,253.1 L653.2,253.3 L654.5,253.4 L655.7,253.5 L657.0,253.7 L658.2,253.8 L659.4,254.0 L660.7,254.1 L661.9,254.3 L663.2,254.4 L664.4,254.5 L665.6,254.7 L666.9,254.8 L668.1,255.0 L669.4,255.1 L670.6,255.3" fill="none" stroke="#111" stroke-width="1.8" stroke-dasharray="12.3 6.2" stroke-linejoin="round"/>
<path d="M50.5,151.2 L51.7,152.6 L53.0,154.0 L54.2,155.5 L55.5,157.0 L56.7,158.5 L57.9,160.0 L59.2,161.6 L60.4,163.2 L61.7,164.7 L62.9,166.1 L64.1,167.4 L65.4,168.6 L66.6,169.7 L67.9,170.7 L69.1,171.6 L70.3,172.5 L71.6,173.3 L72.8,174.0 L74.1,174.6 L75.3,175.2 L76.5,175.7 L77.8,176.1 L79.0,176.4 L80.3,176.7 L81.5,176.8 L82.7,176.9 L84.0,177.0 L85.2,177.0 L86.5,176.9 L87.7,176.8 L88.9,176.7 L90.2,176.4 L91.4,176.1 L92.7,175.8 L93.9,175.4 L95.1,175.0 L96.4,174.6 L97.6,174.2 L98.9,173.7 L100.1,173.2 L101.3,172.7 L102.6,172.1 L103.8,171.5 L105.1,170.9 L106.3,170.3 L107.5,169.7 L108.8,169.0 L110.0,168.3 L111.3,167.7 L112.5,167.0 L113.8,166.2 L115.0,165.5 L116.2,164.8 L117.5,164.0 L118.7,163.2 L120.0,162.4 L121.2,161.7 L122.4,160.9 L123.7,160.1 L124.9,159.3 L126.2,158.5 L127.4,157.7 L128.6,156.9 L129.9,156.1 L131.1,155.3 L132.4,154.5 L133.6,153.7 L134.8,152.9 L136.1,152.1 L137.3,151.3 L138.6,150.5 L139.8,149.7 L141.0,149.0 L142.3,148.2 L143.5,147.4 L144.8,146.7 L146.0,146.0 L147.2,145.2 L148.5,144.6 L149.7,143.9 L151.0,143.3 L152.2,142.6 L153.4,142.0 L154.7,141.4 L155.9,140.9 L157.2,140.3 L158.4,139.8 L159.6,139.2 L160.9,138.7 L162.1,138.1 L163.4,137.6 L164.6,137.0 L165.8,136.5 L167.1,136.0 L168.3,135.4 L169.6,134.9 L170.8,134.4 L172.0,133.9 L173.3,133.4 L174.5,132.9 L175.8,132.5 L177.0,132.0 L178.2,131.6 L179.5,131.2 L180.7,130.8 L182.0,130.4 L183.2,130.1 L184.4,129.7 L185.7,129.3 L186.9,128.9 L188.2,128.6 L189.4,128.2 L190.6,127.9 L191.9,127.5 L193.1,127.1 L194.4,126.8 L195.6,126.5 L196.8,126.1 L198.1,125.8 L199.3,125.5 L200.6,125.2 L201.8,125.0 L203.0,124.7 L204.3,124.4 L205.5,124.2 L206.8,123.9 L208.0,123.7 L209.2,123.5 L210.5,123.3 L211.7,123.1 L213.0,122.9 L214.2,122.8 L215.4,122.6 L216.7,122.4 L217.9,122.3 L219.2,122.2 L220.4,122.1 L221.6,122.0 L222.9,122.0 L224.1,122.0 L225.4,122.0 L226.6,122.1 L227.8,122.2 L229.1,122.4 L230.3,122.5 L231.6,122.7 L232.8,122.9 L234.0,123.1 L235.3,123.3 L236.5,123.5 L237.8,123.7 L239.0,123.9 L240.3,124.2 L241.5,124.4 L242.7,124.6 L244.0,124.8 L245.2,125.0 L246.5,125.3 L247.7,125.5 L248.9,125.7 L250.2,126.0 L251.4,126.2 L252.7,126.5 L253.9,126.8 L255.1,127.0 L256.4,127.3 L257.6,127.6 L258.9,127.9 L260.1,128.2 L261.3,128.5 L262.6,128.8 L263.8,129.2 L265.1,129.5 L266.3,129.8 L267.5,130.2 L268.8,130.5 L270.0,130.9 L271.3,131.3 L272.5,131.7 L273.7,132.0 L275.0,132.5 L276.2,132.9 L277.5,133.3 L278.7,133.7 L279.9,134.2 L281.2,134.7 L282.4,135.1 L283.7,135.6 L284.9,136.1 L286.1,136.6 L287.4,137.1 L288.6,137.5 L289.9,138.0 L291.1,138.5 L292.3,139.0 L293.6,139.5 L294.8,140.0 L296.1,140.5 L297.3,141.0 L298.5,141.4 L299.8,141.9 L301.0,142.4 L302.3,142.8 L303.5,143.3 L304.7,143.7 L306.0,144.2 L307.2,144.7 L308.5,145.1 L309.7,145.6 L310.9,146.0 L312.2,146.5 L313.4,146.9 L314.7,147.4 L315.9,147.8 L317.1,148.4 L318.4,149.7 L319.6,150.1 L320.9,149.6 L322.1,149.5 L323.3,150.4 L324.6,151.5 L325.8,152.0 L327.1,152.2 L328.3,152.6 L329.5,153.1 L330.8,153.6 L332.0,154.1 L333.3,154.7 L334.5,155.2 L335.7,155.7 L337.0,156.2 L338.2,156.7 L339.5,157.2 L340.7,157.8 L341.9,158.3 L343.2,158.8 L344.4,159.3 L345.7,159.8 L346.9,160.3 L348.1,160.8 L349.4,161.3 L350.6,161.8 L351.9,162.3 L353.1,162.7 L354.3,163.2 L355.6,163.7 L356.8,164.1 L358.1,164.6 L359.3,165.1 L360.6,165.5 L361.8,166.0 L363.0,166.5 L364.3,167.0 L365.5,167.4 L366.8,167.9 L368.0,168.4 L369.2,168.9 L370.5,169.4 L371.7,169.9 L373.0,170.4 L374.2,170.9 L375.4,171.5 L376.7,172.0 L377.9,172.6 L379.2,173.1 L380.4,173.7 L381.6,174.2 L382.9,174.8 L384.1,175.4 L385.4,176.0 L386.6,176.5 L387.8,177.1 L389.1,177.7 L390.3,178.2 L391.6,178.8 L392.8,179.4 L394.0,179.9 L395.3,180.5 L396.5,181.1 L397.8,181.6 L399.0,182.1 L400.2,182.7 L401.5,183.2 L402.7,183.7 L404.0,184.2 L405.2,184.8 L406.4,185.3 L407.7,185.8 L408.9,186.3 L410.2,186.8 L411.4,187.3 L412.6,187.8 L413.9,188.2 L415.1,188.7 L416.4,189.2 L417.6,189.7 L418.8,190.2 L420.1,190.6 L421.3,191.1 L422.6,191.5 L423.8,192.0 L425.0,192.5 L426.3,192.9 L427.5,193.4 L428.8,193.8 L430.0,194.2 L431.2,194.7 L432.5,195.1 L433.7,195.5 L435.0,196.0 L436.2,196.4 L437.4,196.8 L438.7,197.2 L439.9,197.7 L441.2,198.1 L442.4,198.5 L443.6,198.9 L444.9,199.3 L446.1,199.8 L447.4,200.2 L448.6,200.6 L449.8,201.0 L451.1,201.4 L452.3,201.8 L453.6,202.3 L454.8,202.7 L456.0,203.1 L457.3,203.5 L458.5,203.9 L459.8,204.3 L461.0,204.7 L462.2,205.1 L463.5,205.5 L464.7,205.9 L466.0,206.3 L467.2,206.7 L468.4,207.1 L469.7,207.5 L470.9,207.9 L472.2,208.2 L473.4,208.6 L474.6,209.0 L475.9,209.4 L477.1,209.7 L478.4,210.1 L479.6,210.4 L480.8,210.8 L482.1,211.1 L483.3,211.5 L484.6,211.8 L485.8,212.1 L487.1,212.5 L488.3,212.8 L489.5,213.1 L490.8,213.5 L492.0,213.8 L493.3,214.1 L494.5,214.5 L495.7,214.8 L497.0,215.1 L498.2,215.4 L499.5,215.8 L500.7,216.1 L501.9,216.4 L503.2,216.7 L504.4,217.0 L505.7,217.3 L506.9,217.7 L508.1,218.0 L509.4,218.3 L510.6,218.6 L511.9,218.9 L513.1,219.2 L514.3,219.5 L515.6,219.8 L516.8,220.1 L518.1,220.4 L519.3,220.7 L520.5,221.0 L521.8,221.3 L523.0,221.6 L524.3,221.9 L525.5,222.2 L526.7,222.5 L528.0,222.7 L529.2,223.0 L530.5,223.3 L531.7,223.6 L532.9,223.8 L534.2,224.1 L535.4,224.4 L536.7,224.7 L537.9,224.9 L539.1,225.2 L540.4,225.5 L541.6,225.8 L542.9,226.0 L544.1,226.3 L545.3,226.6 L546.6,226.8 L547.8,227.1 L549.1,227.4 L550.3,227.6 L551.5,227.9 L552.8,228.2 L554.0,228.4 L555.3,228.7 L556.5,229.0 L557.7,229.2 L559.0,229.5 L560.2,229.8 L561.5,230.0 L562.7,230.3 L563.9,230.6 L565.2,230.8 L566.4,231.1 L567.7,231.3 L568.9,231.5 L570.1,231.8 L571.4,232.0 L572.6,232.3 L573.9,232.5 L575.1,232.7 L576.3,232.9 L577.6,233.2 L578.8,233.4 L580.1,233.6 L581.3,233.8 L582.5,234.0 L583.8,234.2 L585.0,234.4 L586.3,234.7 L587.5,234.9 L588.7,235.1 L590.0,235.3 L591.2,235.5 L592.5,235.7 L593.7,235.8 L594.9,236.0 L596.2,236.2 L597.4,236.4 L598.7,236.6 L599.9,236.8 L601.1,237.0 L602.4,237.2 L603.6,237.3 L604.9,237.5 L606.1,237.7 L607.3,237.9 L608.6,238.1 L609.8,238.2 L611.1,238.4 L612.3,238.6 L613.6,238.8 L614.8,239.0 L616.0,239.1 L617.3,239.3 L618.5,239.5 L619.8,239.7 L621.0,239.9 L622.2,240.1 L623.5,240.3 L624.7,240.4 L626.0,240.6 L627.2,240.8 L628.4,241.0 L629.7,241.2 L630.9,241.4 L632.2,241.6 L633.4,241.8 L634.6,242.0 L635.9,242.2 L637.1,242.4 L638.4,242.8 L639.6,243.4 L640.8,243.2 L642.1,243.1 L643.3,243.3 L644.6,243.5 L645.8,243.6 L647.0,243.8 L648.3,244.0 L649.5,244.1 L650.8,244.3 L652.0,244.5 L653.2,244.6 L654.5,244.8 L655.7,244.9 L657.0,245.1 L658.2,245.2 L659.4,245.4 L660.7,245.5 L661.9,245.7 L663.2,245.8 L664.4,245.9 L665.6,246.1 L666.9,246.2 L668.1,246.4 L669.4,246.5 L670.6,246.6" fill="none" stroke="#111" stroke-width="1.8" stroke-dasharray="12.3 5.6 1.7 4.6 1.7 5.85" stroke-linejoin="round"/>
<path d="M50.5,191.9 L51.7,194.1 L53.0,196.3 L54.2,198.5 L55.5,200.6 L56.7,202.7 L57.9,204.8 L59.2,206.8 L60.4,208.7 L61.7,210.7 L62.9,212.6 L64.1,214.5 L65.4,216.4 L66.6,218.2 L67.9,219.8 L69.1,221.3 L70.3,222.5 L71.6,223.6 L72.8,224.6 L74.1,225.4 L75.3,226.2 L76.5,226.8 L77.8,227.4 L79.0,227.9 L80.3,228.3 L81.5,228.5 L82.7,228.5 L84.0,228.2 L85.2,227.9 L86.5,227.3 L87.7,226.6 L88.9,225.7 L90.2,224.6 L91.4,223.2 L92.7,221.8 L93.9,220.3 L95.1,218.8 L96.4,217.2 L97.6,215.5 L98.9,213.7 L100.1,211.8 L101.3,209.7 L102.6,207.5 L103.8,205.1 L105.1,202.7 L106.3,200.3 L107.5,197.9 L108.8,195.5 L110.0,193.0 L111.3,190.6 L112.5,188.2 L113.8,185.7 L115.0,183.3 L116.2,180.8 L117.5,178.3 L118.7,175.9 L120.0,173.5 L121.2,171.1 L122.4,168.7 L123.7,166.4 L124.9,164.1 L126.2,161.8 L127.4,159.6 L128.6,157.4 L129.9,155.3 L131.1,153.2 L132.4,151.1 L133.6,149.1 L134.8,147.1 L136.1,145.1 L137.3,143.2 L138.6,141.3 L139.8,139.5 L141.0,137.6 L142.3,135.8 L143.5,134.0 L144.8,132.3 L146.0,130.5 L147.2,128.8 L148.5,127.1 L149.7,125.4 L151.0,123.7 L152.2,122.0 L153.4,120.4 L154.7,118.7 L155.9,117.1 L157.2,115.5 L158.4,113.9 L159.6,112.3 L160.9,110.8 L162.1,109.3 L163.4,107.8 L164.6,106.4 L165.8,104.9 L167.1,103.5 L168.3,102.1 L169.6,100.7 L170.8,99.4 L172.0,98.1 L173.3,96.8 L174.5,95.6 L175.8,94.4 L177.0,93.2 L178.2,92.0 L179.5,90.8 L180.7,89.7 L182.0,88.6 L183.2,87.6 L184.4,86.5 L185.7,85.5 L186.9,84.6 L188.2,83.7 L189.4,82.8 L190.6,81.9 L191.9,81.0 L193.1,80.2 L194.4,79.5 L195.6,78.8 L196.8,78.2 L198.1,77.6 L199.3,77.2 L200.6,76.8 L201.8,76.5 L203.0,76.2 L204.3,75.9 L205.5,75.7 L206.8,75.6 L208.0,75.5 L209.2,75.5 L210.5,75.5 L211.7,75.6 L213.0,75.8 L214.2,76.1 L215.4,76.6 L216.7,77.1 L217.9,77.6 L219.2,78.2 L220.4,78.9 L221.6,79.6 L222.9,80.3 L224.1,81.1 L225.4,81.8 L226.6,82.6 L227.8,83.4 L229.1,84.2 L230.3,85.1 L231.6,86.0 L232.8,86.9 L234.0,87.8 L235.3,88.8 L236.5,89.8 L237.8,90.8 L239.0,91.9 L240.3,93.0 L241.5,94.1 L242.7,95.2 L244.0,96.4 L245.2,97.5 L246.5,98.7 L247.7,99.8 L248.9,101.0 L250.2,102.1 L251.4,103.2 L252.7,104.3 L253.9,105.4 L255.1,106.4 L256.4,107.5 L257.6,108.6 L258.9,109.7 L260.1,110.7 L261.3,111.8 L262.6,112.8 L263.8,113.9 L265.1,114.9 L266.3,115.9 L267.5,117.0 L268.8,118.0 L270.0,119.0 L271.3,120.0 L272.5,121.1 L273.7,122.1 L275.0,123.1 L276.2,124.1 L277.5,125.2 L278.7,126.2 L279.9,127.2 L281.2,128.2 L282.4,129.3 L283.7,130.3 L284.9,131.3 L286.1,132.3 L287.4,133.3 L288.6,134.3 L289.9,135.3 L291.1,136.2 L292.3,137.2 L293.6,138.2 L294.8,139.1 L296.1,140.1 L297.3,141.0 L298.5,141.9 L299.8,142.8 L301.0,143.7 L302.3,144.6 L303.5,145.4 L304.7,146.3 L306.0,147.1 L307.2,148.0 L308.5,148.8 L309.7,149.6 L310.9,150.4 L312.2,151.2 L313.4,152.0 L314.7,152.8 L315.9,153.6 L317.1,154.5 L318.4,156.0 L319.6,156.8 L320.9,156.5 L322.1,156.7 L323.3,157.9 L324.6,159.2 L325.8,159.9 L327.1,160.2 L328.3,160.8 L329.5,161.5 L330.8,162.2 L332.0,162.9 L333.3,163.5 L334.5,164.2 L335.7,164.9 L337.0,165.5 L338.2,166.1 L339.5,166.8 L340.7,167.4 L341.9,168.1 L343.2,168.7 L344.4,169.3 L345.7,169.9 L346.9,170.6 L348.1,171.2 L349.4,171.8 L350.6,172.4 L351.9,173.1 L353.1,173.7 L354.3,174.3 L355.6,174.9 L356.8,175.5 L358.1,176.1 L359.3,176.7 L360.6,177.3 L361.8,177.9 L363.0,178.6 L364.3,179.2 L365.5,179.8 L366.8,180.4 L368.0,181.0 L369.2,181.6 L370.5,182.2 L371.7,182.8 L373.0,183.4 L374.2,184.0 L375.4,184.6 L376.7,185.2 L377.9,185.8 L379.2,186.4 L380.4,187.0 L381.6,187.6 L382.9,188.2 L384.1,188.8 L385.4,189.4 L386.6,190.0 L387.8,190.5 L389.1,191.1 L390.3,191.7 L391.6,192.3 L392.8,192.9 L394.0,193.4 L395.3,194.0 L396.5,194.5 L397.8,195.1 L399.0,195.6 L400.2,196.2 L401.5,196.7 L402.7,197.2 L404.0,197.8 L405.2,198.3 L406.4,198.8 L407.7,199.3 L408.9,199.8 L410.2,200.3 L411.4,200.8 L412.6,201.3 L413.9,201.8 L415.1,202.3 L416.4,202.8 L417.6,203.2 L418.8,203.7 L420.1,204.2 L421.3,204.7 L422.6,205.2 L423.8,205.6 L425.0,206.1 L426.3,206.6 L427.5,207.0 L428.8,207.5 L430.0,208.0 L431.2,208.4 L432.5,208.9 L433.7,209.3 L435.0,209.8 L436.2,210.2 L437.4,210.7 L438.7,211.1 L439.9,211.6 L441.2,212.0 L442.4,212.5 L443.6,212.9 L444.9,213.4 L446.1,213.8 L447.4,214.2 L448.6,214.7 L449.8,215.1 L451.1,215.5 L452.3,215.9 L453.6,216.4 L454.8,216.8 L456.0,217.2 L457.3,217.6 L458.5,218.0 L459.8,218.4 L461.0,218.8 L462.2,219.2 L463.5,219.6 L464.7,220.0 L466.0,220.4 L467.2,220.8 L468.4,221.2 L469.7,221.6 L470.9,221.9 L472.2,222.3 L473.4,222.7 L474.6,223.0 L475.9,223.4 L477.1,223.7 L478.4,224.1 L479.6,224.4 L480.8,224.7 L482.1,225.1 L483.3,225.4 L484.6,225.7 L485.8,226.0 L487.1,226.4 L488.3,226.7 L489.5,227.0 L490.8,227.3 L492.0,227.6 L493.3,227.9 L494.5,228.2 L495.7,228.5 L497.0,228.8 L498.2,229.1 L499.5,229.4 L500.7,229.7 L501.9,230.0 L503.2,230.3 L504.4,230.6 L505.7,230.9 L506.9,231.1 L508.1,231.4 L509.4,231.7 L510.6,232.0 L511.9,232.3 L513.1,232.5 L514.3,232.8 L515.6,233.1 L516.8,233.4 L518.1,233.6 L519.3,233.9 L520.5,234.2 L521.8,234.5 L523.0,234.7 L524.3,235.0 L525.5,235.3 L526.7,235.6 L528.0,235.8 L529.2,236.1 L530.5,236.4 L531.7,236.7 L532.9,236.9 L534.2,237.2 L535.4,237.5 L536.7,237.8 L537.9,238.0 L539.1,238.3 L540.4,238.6 L541.6,238.8 L542.9,239.1 L544.1,239.4 L545.3,239.6 L546.6,239.9 L547.8,240.1 L549.1,240.4 L550.3,240.7 L551.5,240.9 L552.8,241.2 L554.0,241.4 L555.3,241.7 L556.5,241.9 L557.7,242.2 L559.0,242.4 L560.2,242.7 L561.5,242.9 L562.7,243.2 L563.9,243.4 L565.2,243.7 L566.4,243.9 L567.7,244.1 L568.9,244.4 L570.1,244.6 L571.4,244.9 L572.6,245.1 L573.9,245.3 L575.1,245.6 L576.3,245.8 L577.6,246.0 L578.8,246.3 L580.1,246.5 L581.3,246.7 L582.5,247.0 L583.8,247.2 L585.0,247.4 L586.3,247.7 L587.5,247.9 L588.7,248.1 L590.0,248.3 L591.2,248.5 L592.5,248.8 L593.7,249.0 L594.9,249.2 L596.2,249.4 L597.4,249.6 L598.7,249.8 L599.9,250.0 L601.1,250.2 L602.4,250.4 L603.6,250.6 L604.9,250.8 L606.1,251.0 L607.3,251.2 L608.6,251.4 L609.8,251.6 L611.1,251.7 L612.3,251.9 L613.6,252.1 L614.8,252.3 L616.0,252.5 L617.3,252.6 L618.5,252.8 L619.8,253.0 L621.0,253.2 L622.2,253.3 L623.5,253.5 L624.7,253.6 L626.0,253.8 L627.2,254.0 L628.4,254.1 L629.7,254.3 L630.9,254.4 L632.2,254.6 L633.4,254.7 L634.6,254.9 L635.9,255.0 L637.1,255.2 L638.4,255.6 L639.6,256.1 L640.8,255.8 L642.1,255.7 L643.3,255.9 L644.6,256.0 L645.8,256.1 L647.0,256.3 L648.3,256.4 L649.5,256.5 L650.8,256.7 L652.0,256.8 L653.2,256.9 L654.5,257.0 L655.7,257.2 L657.0,257.3 L658.2,257.4 L659.4,257.5 L660.7,257.6 L661.9,257.8 L663.2,257.9 L664.4,258.0 L665.6,258.1 L666.9,258.2 L668.1,258.3 L669.4,258.5 L670.6,258.6" fill="none" stroke="#6e1d1d" stroke-width="1.6" stroke-linejoin="round"/>
<path d="M50.5,508.5 L51.7,510.1 L53.0,511.8 L54.2,513.4 L55.5,515.1 L56.7,516.7 L57.9,518.2 L59.2,519.8 L60.4,521.3 L61.7,522.8 L62.9,524.2 L64.1,525.5 L65.4,526.8 L66.6,527.9 L67.9,529.1 L69.1,530.1 L70.3,531.2 L71.6,532.1 L72.8,533.0 L74.1,533.9 L75.3,534.6 L76.5,535.2 L77.8,535.7 L79.0,536.2 L80.3,536.6 L81.5,536.8 L82.7,536.9 L84.0,537.0 L85.2,537.0 L86.5,536.9 L87.7,536.8 L88.9,536.4 L90.2,535.8 L91.4,535.0 L92.7,534.1 L93.9,533.1 L95.1,532.1 L96.4,531.0 L97.6,529.8 L98.9,528.5 L100.1,527.3 L101.3,526.0 L102.6,524.7 L103.8,523.4 L105.1,522.1 L106.3,520.8 L107.5,519.5 L108.8,518.2 L110.0,516.9 L111.3,515.7 L112.5,514.5 L113.8,513.2 L115.0,512.0 L116.2,510.9 L117.5,509.7 L118.7,508.6 L120.0,507.4 L121.2,506.3 L122.4,505.2 L123.7,504.1 L124.9,503.0 L126.2,501.9 L127.4,500.7 L128.6,499.7 L129.9,498.6 L131.1,497.5 L132.4,496.4 L133.6,495.4 L134.8,494.4 L136.1,493.4 L137.3,492.5 L138.6,491.5 L139.8,490.7 L141.0,489.8 L142.3,489.0 L143.5,488.2 L144.8,487.4 L146.0,486.6 L147.2,485.8 L148.5,485.0 L149.7,484.2 L151.0,483.4 L152.2,482.5 L153.4,481.7 L154.7,480.9 L155.9,480.1 L157.2,479.3 L158.4,478.5 L159.6,477.7 L160.9,476.9 L162.1,476.2 L163.4,475.4 L164.6,474.7 L165.8,474.0 L167.1,473.2 L168.3,472.6 L169.6,471.9 L170.8,471.2 L172.0,470.6 L173.3,470.0 L174.5,469.4 L175.8,468.9 L177.0,468.3 L178.2,467.8 L179.5,467.3 L180.7,466.8 L182.0,466.4 L183.2,465.9 L184.4,465.5 L185.7,465.2 L186.9,464.8 L188.2,464.5 L189.4,464.2 L190.6,463.9 L191.9,463.7 L193.1,463.4 L194.4,463.2 L195.6,463.1 L196.8,462.9 L198.1,462.8 L199.3,462.7 L200.6,462.7 L201.8,462.7 L203.0,462.6 L204.3,462.6 L205.5,462.7 L206.8,462.7 L208.0,462.7 L209.2,462.8 L210.5,462.9 L211.7,462.9 L213.0,463.1 L214.2,463.2 L215.4,463.4 L216.7,463.5 L217.9,463.8 L219.2,464.0 L220.4,464.2 L221.6,464.5 L222.9,464.8 L224.1,465.0 L225.4,465.3 L226.6,465.7 L227.8,466.0 L229.1,466.4 L230.3,466.7 L231.6,467.1 L232.8,467.5 L234.0,467.9 L235.3,468.4 L236.5,468.8 L237.8,469.3 L239.0,469.7 L240.3,470.2 L241.5,470.7 L242.7,471.2 L244.0,471.7 L245.2,472.2 L246.5,472.7 L247.7,473.2 L248.9,473.7 L250.2,474.2 L251.4,474.6 L252.7,475.1 L253.9,475.6 L255.1,476.1 L256.4,476.5 L257.6,477.0 L258.9,477.4 L260.1,477.9 L261.3,478.3 L262.6,478.8 L263.8,479.2 L265.1,479.6 L266.3,480.1 L267.5,480.5 L268.8,480.9 L270.0,481.3 L271.3,481.7 L272.5,482.0 L273.7,482.4 L275.0,482.8 L276.2,483.1 L277.5,483.4 L278.7,483.8 L279.9,484.1 L281.2,484.4 L282.4,484.7 L283.7,485.0 L284.9,485.3 L286.1,485.6 L287.4,485.9 L288.6,486.2 L289.9,486.5 L291.1,486.8 L292.3,487.1 L293.6,487.4 L294.8,487.7 L296.1,488.0 L297.3,488.3 L298.5,488.6 L299.8,488.9 L301.0,489.2 L302.3,489.5 L303.5,489.9 L304.7,490.2 L306.0,490.5 L307.2,490.8 L308.5,491.2 L309.7,491.5 L310.9,491.8 L312.2,492.1 L313.4,492.4 L314.7,492.8 L315.9,493.1 L317.1,493.5 L318.4,494.6 L319.6,494.9 L320.9,494.1 L322.1,493.9 L323.3,494.6 L324.6,495.5 L325.8,495.7 L327.1,495.6 L328.3,495.8 L329.5,496.0 L330.8,496.2 L332.0,496.4 L333.3,496.6 L334.5,496.8 L335.7,497.0 L337.0,497.2 L338.2,497.4 L339.5,497.6 L340.7,497.8 L341.9,498.0 L343.2,498.2 L344.4,498.4 L345.7,498.7 L346.9,498.9 L348.1,499.1 L349.4,499.3 L350.6,499.5 L351.9,499.8 L353.1,500.0 L354.3,500.2 L355.6,500.5 L356.8,500.7 L358.1,501.0 L359.3,501.2 L360.6,501.5 L361.8,501.8 L363.0,502.0 L364.3,502.3 L365.5,502.6 L366.8,502.9 L368.0,503.2 L369.2,503.5 L370.5,503.8 L371.7,504.1 L373.0,504.4 L374.2,504.7 L375.4,505.1 L376.7,505.4 L377.9,505.7 L379.2,506.1 L380.4,506.5 L381.6,506.8 L382.9,507.2 L384.1,507.6 L385.4,508.0 L386.6,508.4 L387.8,508.7 L389.1,509.1 L390.3,509.5 L391.6,509.9 L392.8,510.3 L394.0,510.7 L395.3,511.0 L396.5,511.4 L397.8,511.8 L399.0,512.2 L400.2,512.5 L401.5,512.9 L402.7,513.3 L404.0,513.6 L405.2,514.0 L406.4,514.4 L407.7,514.7 L408.9,515.1 L410.2,515.4 L411.4,515.8 L412.6,516.1 L413.9,516.5 L415.1,516.8 L416.4,517.1 L417.6,517.5 L418.8,517.8 L420.1,518.1 L421.3,518.4 L422.6,518.8 L423.8,519.1 L425.0,519.4 L426.3,519.7 L427.5,520.0 L428.8,520.3 L430.0,520.6 L431.2,520.9 L432.5,521.2 L433.7,521.4 L435.0,521.7 L436.2,522.0 L437.4,522.3 L438.7,522.6 L439.9,522.9 L441.2,523.1 L442.4,523.4 L443.6,523.7 L444.9,524.0 L446.1,524.2 L447.4,524.5 L448.6,524.8 L449.8,525.1 L451.1,525.3 L452.3,525.6 L453.6,525.9 L454.8,526.2 L456.0,526.4 L457.3,526.7 L458.5,527.0 L459.8,527.2 L461.0,527.5 L462.2,527.8 L463.5,528.1 L464.7,528.3 L466.0,528.6 L467.2,528.9 L468.4,529.1 L469.7,529.4 L470.9,529.7 L472.2,529.9 L473.4,530.2 L474.6,530.4 L475.9,530.7 L477.1,531.0 L478.4,531.2 L479.6,531.5 L480.8,531.7 L482.1,532.0 L483.3,532.3 L484.6,532.5 L485.8,532.8 L487.1,533.0 L488.3,533.3 L489.5,533.5 L490.8,533.7 L492.0,534.0 L493.3,534.2 L494.5,534.4 L495.7,534.7 L497.0,534.9 L498.2,535.1 L499.5,535.3 L500.7,535.5 L501.9,535.8 L503.2,536.0 L504.4,536.2 L505.7,536.4 L506.9,536.6 L508.1,536.8 L509.4,537.0 L510.6,537.2 L511.9,537.4 L513.1,537.6 L514.3,537.8 L515.6,538.0 L516.8,538.2 L518.1,538.4 L519.3,538.6 L520.5,538.9 L521.8,539.1 L523.0,539.3 L524.3,539.6 L525.5,539.8 L526.7,540.1 L528.0,540.3 L529.2,540.6 L530.5,540.8 L531.7,541.1 L532.9,541.3 L534.2,541.6 L535.4,541.9 L536.7,542.1 L537.9,542.4 L539.1,542.6 L540.4,542.9 L541.6,543.1 L542.9,543.4 L544.1,543.6 L545.3,543.8 L546.6,544.1 L547.8,544.3 L549.1,544.5 L550.3,544.7 L551.5,544.9 L552.8,545.1 L554.0,545.3 L555.3,545.5 L556.5,545.7 L557.7,545.9 L559.0,546.1 L560.2,546.3 L561.5,546.4 L562.7,546.6 L563.9,546.8 L565.2,547.0 L566.4,547.1 L567.7,547.3 L568.9,547.5 L570.1,547.7 L571.4,547.8 L572.6,548.0 L573.9,548.2 L575.1,548.3 L576.3,548.5 L577.6,548.7 L578.8,548.8 L580.1,549.0 L581.3,549.2 L582.5,549.3 L583.8,549.5 L585.0,549.7 L586.3,549.8 L587.5,550.0 L588.7,550.1 L590.0,550.3 L591.2,550.4 L592.5,550.6 L593.7,550.7 L594.9,550.9 L596.2,551.0 L597.4,551.2 L598.7,551.3 L599.9,551.4 L601.1,551.6 L602.4,551.7 L603.6,551.8 L604.9,552.0 L606.1,552.1 L607.3,552.2 L608.6,552.3 L609.8,552.5 L611.1,552.6 L612.3,552.7 L613.6,552.8 L614.8,552.9 L616.0,553.0 L617.3,553.1 L618.5,553.2 L619.8,553.4 L621.0,553.5 L622.2,553.6 L623.5,553.7 L624.7,553.8 L626.0,553.9 L627.2,554.0 L628.4,554.1 L629.7,554.2 L630.9,554.3 L632.2,554.4 L633.4,554.5 L634.6,554.6 L635.9,554.7 L637.1,554.8 L638.4,555.1 L639.6,555.6 L640.8,555.3 L642.1,555.2 L643.3,555.3 L644.6,555.4 L645.8,555.5 L647.0,555.5 L648.3,555.6 L649.5,555.7 L650.8,555.8 L652.0,555.9 L653.2,556.0 L654.5,556.1 L655.7,556.2 L657.0,556.3 L658.2,556.4 L659.4,556.4 L660.7,556.5 L661.9,556.6 L663.2,556.7 L664.4,556.8 L665.6,556.9 L666.9,557.0 L668.1,557.1 L669.4,557.1 L670.6,557.2" fill="none" stroke="#111" stroke-width="1.7" stroke-dasharray="1.6 1.6" stroke-linejoin="round"/>
<path d="M50.5,497.3 L51.7,499.3 L53.0,501.3 L54.2,503.2 L55.5,505.1 L56.7,507.0 L57.9,508.9 L59.2,510.8 L60.4,512.6 L61.7,514.4 L62.9,516.0 L64.1,517.5 L65.4,518.9 L66.6,520.3 L67.9,521.5 L69.1,522.6 L70.3,523.7 L71.6,524.7 L72.8,525.6 L74.1,526.4 L75.3,527.2 L76.5,527.8 L77.8,528.4 L79.0,528.9 L80.3,529.2 L81.5,529.4 L82.7,529.4 L84.0,529.2 L85.2,528.9 L86.5,528.5 L87.7,527.9 L88.9,527.2 L90.2,526.2 L91.4,525.0 L92.7,523.6 L93.9,522.0 L95.1,520.1 L96.4,517.9 L97.6,515.6 L98.9,513.1 L100.1,510.7 L101.3,508.3 L102.6,505.9 L103.8,503.5 L105.1,501.0 L106.3,498.5 L107.5,496.0 L108.8,493.4 L110.0,490.7 L111.3,488.0 L112.5,485.3 L113.8,482.5 L115.0,479.6 L116.2,476.8 L117.5,473.9 L118.7,471.0 L120.0,468.2 L121.2,465.4 L122.4,462.7 L123.7,460.1 L124.9,457.6 L126.2,455.3 L127.4,453.0 L128.6,450.9 L129.9,448.8 L131.1,446.7 L132.4,444.7 L133.6,442.8 L134.8,440.9 L136.1,439.0 L137.3,437.1 L138.6,435.2 L139.8,433.3 L141.0,431.4 L142.3,429.5 L143.5,427.7 L144.8,425.9 L146.0,424.1 L147.2,422.3 L148.5,420.6 L149.7,419.0 L151.0,417.4 L152.2,415.8 L153.4,414.3 L154.7,412.8 L155.9,411.3 L157.2,409.9 L158.4,408.5 L159.6,407.2 L160.9,405.9 L162.1,404.6 L163.4,403.3 L164.6,402.1 L165.8,400.9 L167.1,399.7 L168.3,398.5 L169.6,397.3 L170.8,396.2 L172.0,395.1 L173.3,394.0 L174.5,393.0 L175.8,392.0 L177.0,391.0 L178.2,390.0 L179.5,389.0 L180.7,388.1 L182.0,387.2 L183.2,386.3 L184.4,385.5 L185.7,384.8 L186.9,384.1 L188.2,383.5 L189.4,382.9 L190.6,382.4 L191.9,381.9 L193.1,381.4 L194.4,381.0 L195.6,380.6 L196.8,380.3 L198.1,380.1 L199.3,379.9 L200.6,379.8 L201.8,379.8 L203.0,379.7 L204.3,379.6 L205.5,379.6 L206.8,379.6 L208.0,379.7 L209.2,379.7 L210.5,379.8 L211.7,379.9 L213.0,380.1 L214.2,380.4 L215.4,380.7 L216.7,381.1 L217.9,381.5 L219.2,382.0 L220.4,382.6 L221.6,383.1 L222.9,383.7 L224.1,384.4 L225.4,385.0 L226.6,385.8 L227.8,386.5 L229.1,387.4 L230.3,388.3 L231.6,389.2 L232.8,390.1 L234.0,391.1 L235.3,392.1 L236.5,393.1 L237.8,394.1 L239.0,395.2 L240.3,396.3 L241.5,397.4 L242.7,398.6 L244.0,399.7 L245.2,400.9 L246.5,402.0 L247.7,403.2 L248.9,404.3 L250.2,405.3 L251.4,406.4 L252.7,407.5 L253.9,408.5 L255.1,409.6 L256.4,410.6 L257.6,411.6 L258.9,412.7 L260.1,413.7 L261.3,414.7 L262.6,415.6 L263.8,416.6 L265.1,417.6 L266.3,418.5 L267.5,419.5 L268.8,420.4 L270.0,421.4 L271.3,422.3 L272.5,423.2 L273.7,424.2 L275.0,425.1 L276.2,426.0 L277.5,426.9 L278.7,427.8 L279.9,428.6 L281.2,429.5 L282.4,430.4 L283.7,431.3 L284.9,432.1 L286.1,433.0 L287.4,433.9 L288.6,434.7 L289.9,435.6 L291.1,436.4 L292.3,437.3 L293.6,438.1 L294.8,439.0 L296.1,439.8 L297.3,440.7 L298.5,441.5 L299.8,442.4 L301.0,443.2 L302.3,444.0 L303.5,444.9 L304.7,445.7 L306.0,446.6 L307.2,447.4 L308.5,448.2 L309.7,449.1 L310.9,449.9 L312.2,450.7 L313.4,451.5 L314.7,452.3 L315.9,453.1 L317.1,454.0 L318.4,455.6 L319.6,456.4 L320.9,456.1 L322.1,456.3 L323.3,457.5 L324.6,458.8 L325.8,459.5 L327.1,459.8 L328.3,460.4 L329.5,461.1 L330.8,461.8 L332.0,462.4 L333.3,463.1 L334.5,463.7 L335.7,464.3 L337.0,464.9 L338.2,465.5 L339.5,466.1 L340.7,466.7 L341.9,467.3 L343.2,467.9 L344.4,468.5 L345.7,469.0 L346.9,469.6 L348.1,470.1 L349.4,470.7 L350.6,471.2 L351.9,471.7 L353.1,472.2 L354.3,472.8 L355.6,473.3 L356.8,473.8 L358.1,474.3 L359.3,474.8 L360.6,475.3 L361.8,475.8 L363.0,476.2 L364.3,476.7 L365.5,477.2 L366.8,477.7 L368.0,478.2 L369.2,478.7 L370.5,479.3 L371.7,479.8 L373.0,480.3 L374.2,480.8 L375.4,481.4 L376.7,481.9 L377.9,482.5 L379.2,483.0 L380.4,483.6 L381.6,484.1 L382.9,484.7 L384.1,485.3 L385.4,485.8 L386.6,486.4 L387.8,487.0 L389.1,487.5 L390.3,488.1 L391.6,488.7 L392.8,489.2 L394.0,489.8 L395.3,490.4 L396.5,490.9 L397.8,491.5 L399.0,492.0 L400.2,492.6 L401.5,493.1 L402.7,493.6 L404.0,494.2 L405.2,494.7 L406.4,495.2 L407.7,495.8 L408.9,496.3 L410.2,496.8 L411.4,497.3 L412.6,497.9 L413.9,498.4 L415.1,498.9 L416.4,499.4 L417.6,499.9 L418.8,500.4 L420.1,500.9 L421.3,501.4 L422.6,501.9 L423.8,502.3 L425.0,502.8 L426.3,503.3 L427.5,503.7 L428.8,504.2 L430.0,504.7 L431.2,505.1 L432.5,505.6 L433.7,506.0 L435.0,506.5 L436.2,506.9 L437.4,507.4 L438.7,507.8 L439.9,508.2 L441.2,508.7 L442.4,509.1 L443.6,509.5 L444.9,510.0 L446.1,510.4 L447.4,510.8 L448.6,511.2 L449.8,511.6 L451.1,512.0 L452.3,512.5 L453.6,512.9 L454.8,513.3 L456.0,513.7 L457.3,514.1 L458.5,514.5 L459.8,514.9 L461.0,515.3 L462.2,515.6 L463.5,516.0 L464.7,516.4 L466.0,516.8 L467.2,517.2 L468.4,517.6 L469.7,518.0 L470.9,518.4 L472.2,518.8 L473.4,519.1 L474.6,519.5 L475.9,519.9 L477.1,520.3 L478.4,520.7 L479.6,521.1 L480.8,521.5 L482.1,521.9 L483.3,522.2 L484.6,522.6 L485.8,523.0 L487.1,523.4 L488.3,523.7 L489.5,524.1 L490.8,524.5 L492.0,524.8 L493.3,525.2 L494.5,525.5 L495.7,525.8 L497.0,526.2 L498.2,526.5 L499.5,526.8 L500.7,527.1 L501.9,527.4 L503.2,527.7 L504.4,528.0 L505.7,528.3 L506.9,528.6 L508.1,528.9 L509.4,529.2 L510.6,529.4 L511.9,529.7 L513.1,530.0 L514.3,530.3 L515.6,530.5 L516.8,530.8 L518.1,531.1 L519.3,531.4 L520.5,531.6 L521.8,531.9 L523.0,532.2 L524.3,532.5 L525.5,532.7 L526.7,533.0 L528.0,533.3 L529.2,533.6 L530.5,533.9 L531.7,534.1 L532.9,534.4 L534.2,534.7 L535.4,535.0 L536.7,535.3 L537.9,535.5 L539.1,535.8 L540.4,536.1 L541.6,536.4 L542.9,536.6 L544.1,536.9 L545.3,537.2 L546.6,537.4 L547.8,537.7 L549.1,538.0 L550.3,538.2 L551.5,538.5 L552.8,538.8 L554.0,539.0 L555.3,539.3 L556.5,539.6 L557.7,539.8 L559.0,540.1 L560.2,540.3 L561.5,540.6 L562.7,540.8 L563.9,541.1 L565.2,541.3 L566.4,541.5 L567.7,541.8 L568.9,542.0 L570.1,542.2 L571.4,542.4 L572.6,542.6 L573.9,542.8 L575.1,543.0 L576.3,543.2 L577.6,543.4 L578.8,543.6 L580.1,543.8 L581.3,544.0 L582.5,544.2 L583.8,544.4 L585.0,544.5 L586.3,544.7 L587.5,544.9 L588.7,545.0 L590.0,545.2 L591.2,545.4 L592.5,545.6 L593.7,545.7 L594.9,545.9 L596.2,546.1 L597.4,546.2 L598.7,546.4 L599.9,546.6 L601.1,546.7 L602.4,546.9 L603.6,547.0 L604.9,547.2 L606.1,547.4 L607.3,547.5 L608.6,547.7 L609.8,547.8 L611.1,548.0 L612.3,548.2 L613.6,548.3 L614.8,548.5 L616.0,548.6 L617.3,548.8 L618.5,549.0 L619.8,549.1 L621.0,549.3 L622.2,549.4 L623.5,549.6 L624.7,549.7 L626.0,549.9 L627.2,550.0 L628.4,550.2 L629.7,550.3 L630.9,550.5 L632.2,550.7 L633.4,550.8 L634.6,551.0 L635.9,551.1 L637.1,551.3 L638.4,551.6 L639.6,552.2 L640.8,551.9 L642.1,551.8 L643.3,552.0 L644.6,552.1 L645.8,552.2 L647.0,552.4 L648.3,552.5 L649.5,552.7 L650.8,552.8 L652.0,552.9 L653.2,553.1 L654.5,553.2 L655.7,553.3 L657.0,553.4 L658.2,553.6 L659.4,553.7 L660.7,553.8 L661.9,553.9 L663.2,554.1 L664.4,554.2 L665.6,554.3 L666.9,554.4 L668.1,554.6 L669.4,554.7 L670.6,554.8" fill="none" stroke="#111" stroke-width="1.8" stroke-dasharray="4.5 1.9" stroke-linejoin="round"/>
<path d="M50.5,495.1 L51.7,497.1 L53.0,499.1 L54.2,501.1 L55.5,503.0 L56.7,504.8 L57.9,506.6 L59.2,508.3 L60.4,509.9 L61.7,511.5 L62.9,513.0 L64.1,514.5 L65.4,515.9 L66.6,517.2 L67.9,518.5 L69.1,519.6 L70.3,520.7 L71.6,521.8 L72.8,522.7 L74.1,523.5 L75.3,524.2 L76.5,524.7 L77.8,525.2 L79.0,525.6 L80.3,525.9 L81.5,526.1 L82.7,526.1 L84.0,526.0 L85.2,525.8 L86.5,525.4 L87.7,525.0 L88.9,524.2 L90.2,523.3 L91.4,522.0 L92.7,520.6 L93.9,519.0 L95.1,517.2 L96.4,515.1 L97.6,512.9 L98.9,510.6 L100.1,508.3 L101.3,505.9 L102.6,503.5 L103.8,501.1 L105.1,498.7 L106.3,496.3 L107.5,494.0 L108.8,491.6 L110.0,489.2 L111.3,486.7 L112.5,484.2 L113.8,481.5 L115.0,478.8 L116.2,475.9 L117.5,473.0 L118.7,470.1 L120.0,467.2 L121.2,464.4 L122.4,461.5 L123.7,458.8 L124.9,456.2 L126.2,453.7 L127.4,451.3 L128.6,449.0 L129.9,446.7 L131.1,444.5 L132.4,442.4 L133.6,440.2 L134.8,438.1 L136.1,436.0 L137.3,433.9 L138.6,431.7 L139.8,429.6 L141.0,427.4 L142.3,425.3 L143.5,423.1 L144.8,421.0 L146.0,418.9 L147.2,416.9 L148.5,414.9 L149.7,412.9 L151.0,411.0 L152.2,409.1 L153.4,407.2 L154.7,405.4 L155.9,403.7 L157.2,401.9 L158.4,400.2 L159.6,398.5 L160.9,396.8 L162.1,395.2 L163.4,393.6 L164.6,391.9 L165.8,390.3 L167.1,388.8 L168.3,387.2 L169.6,385.7 L170.8,384.3 L172.0,382.9 L173.3,381.5 L174.5,380.3 L175.8,379.1 L177.0,378.0 L178.2,376.9 L179.5,375.8 L180.7,374.8 L182.0,373.9 L183.2,373.1 L184.4,372.3 L185.7,371.5 L186.9,370.9 L188.2,370.3 L189.4,369.7 L190.6,369.2 L191.9,368.7 L193.1,368.2 L194.4,367.9 L195.6,367.5 L196.8,367.3 L198.1,367.1 L199.3,367.0 L200.6,367.0 L201.8,367.1 L203.0,367.2 L204.3,367.4 L205.5,367.6 L206.8,367.9 L208.0,368.2 L209.2,368.6 L210.5,369.1 L211.7,369.6 L213.0,370.1 L214.2,370.8 L215.4,371.5 L216.7,372.3 L217.9,373.2 L219.2,374.1 L220.4,375.1 L221.6,376.1 L222.9,377.1 L224.1,378.2 L225.4,379.3 L226.6,380.4 L227.8,381.6 L229.1,382.8 L230.3,384.0 L231.6,385.3 L232.8,386.6 L234.0,387.9 L235.3,389.2 L236.5,390.6 L237.8,391.9 L239.0,393.2 L240.3,394.6 L241.5,396.0 L242.7,397.3 L244.0,398.7 L245.2,400.1 L246.5,401.5 L247.7,402.9 L248.9,404.3 L250.2,405.6 L251.4,407.0 L252.7,408.4 L253.9,409.8 L255.1,411.2 L256.4,412.6 L257.6,414.0 L258.9,415.4 L260.1,416.8 L261.3,418.2 L262.6,419.6 L263.8,420.9 L265.1,422.3 L266.3,423.7 L267.5,425.0 L268.8,426.4 L270.0,427.7 L271.3,429.0 L272.5,430.3 L273.7,431.6 L275.0,432.8 L276.2,434.1 L277.5,435.3 L278.7,436.5 L279.9,437.8 L281.2,439.0 L282.4,440.2 L283.7,441.4 L284.9,442.5 L286.1,443.7 L287.4,444.9 L288.6,446.0 L289.9,447.2 L291.1,448.3 L292.3,449.5 L293.6,450.6 L294.8,451.7 L296.1,452.9 L297.3,454.0 L298.5,455.1 L299.8,456.2 L301.0,457.3 L302.3,458.5 L303.5,459.6 L304.7,460.7 L306.0,461.8 L307.2,462.9 L308.5,464.0 L309.7,465.1 L310.9,466.2 L312.2,467.3 L313.4,468.3 L314.7,469.4 L315.9,470.4 L317.1,471.6 L318.4,473.4 L319.6,474.3 L320.9,474.2 L322.1,474.6 L323.3,476.0 L324.6,477.5 L325.8,478.4 L327.1,478.9 L328.3,479.7 L329.5,480.5 L330.8,481.3 L332.0,482.1 L333.3,482.9 L334.5,483.6 L335.7,484.4 L337.0,485.1 L338.2,485.9 L339.5,486.6 L340.7,487.3 L341.9,488.0 L343.2,488.8 L344.4,489.5 L345.7,490.2 L346.9,490.9 L348.1,491.6 L349.4,492.3 L350.6,493.0 L351.9,493.7 L353.1,494.4 L354.3,495.1 L355.6,495.7 L356.8,496.4 L358.1,497.1 L359.3,497.8 L360.6,498.5 L361.8,499.2 L363.0,499.8 L364.3,500.5 L365.5,501.2 L366.8,501.8 L368.0,502.5 L369.2,503.2 L370.5,503.8 L371.7,504.5 L373.0,505.2 L374.2,505.8 L375.4,506.5 L376.7,507.2 L377.9,507.8 L379.2,508.5 L380.4,509.1 L381.6,509.8 L382.9,510.4 L384.1,511.1 L385.4,511.7 L386.6,512.3 L387.8,513.0 L389.1,513.6 L390.3,514.2 L391.6,514.8 L392.8,515.4 L394.0,515.9 L395.3,516.5 L396.5,517.0 L397.8,517.5 L399.0,518.1 L400.2,518.6 L401.5,519.0 L402.7,519.5 L404.0,520.0 L405.2,520.4 L406.4,520.9 L407.7,521.3 L408.9,521.8 L410.2,522.2 L411.4,522.6 L412.6,523.0 L413.9,523.4 L415.1,523.8 L416.4,524.2 L417.6,524.6 L418.8,525.0 L420.1,525.4 L421.3,525.8 L422.6,526.2 L423.8,526.5 L425.0,526.9 L426.3,527.3 L427.5,527.7 L428.8,528.1 L430.0,528.4 L431.2,528.8 L432.5,529.2 L433.7,529.5 L435.0,529.9 L436.2,530.2 L437.4,530.6 L438.7,530.9 L439.9,531.3 L441.2,531.6 L442.4,532.0 L443.6,532.3 L444.9,532.6 L446.1,532.9 L447.4,533.2 L448.6,533.5 L449.8,533.9 L451.1,534.2 L452.3,534.4 L453.6,534.7 L454.8,535.0 L456.0,535.3 L457.3,535.6 L458.5,535.9 L459.8,536.1 L461.0,536.4 L462.2,536.7 L463.5,536.9 L464.7,537.2 L466.0,537.4 L467.2,537.7 L468.4,537.9 L469.7,538.2 L470.9,538.4 L472.2,538.7 L473.4,538.9 L474.6,539.1 L475.9,539.4 L477.1,539.6 L478.4,539.8 L479.6,540.0 L480.8,540.3 L482.1,540.5 L483.3,540.7 L484.6,540.9 L485.8,541.1 L487.1,541.3 L488.3,541.5 L489.5,541.7 L490.8,541.9 L492.0,542.1 L493.3,542.3 L494.5,542.5 L495.7,542.7 L497.0,542.9 L498.2,543.0 L499.5,543.2 L500.7,543.4 L501.9,543.5 L503.2,543.7 L504.4,543.8 L505.7,544.0 L506.9,544.1 L508.1,544.3 L509.4,544.4 L510.6,544.6 L511.9,544.7 L513.1,544.9 L514.3,545.0 L515.6,545.2 L516.8,545.3 L518.1,545.5 L519.3,545.7 L520.5,545.9 L521.8,546.1 L523.0,546.3 L524.3,546.5 L525.5,546.7 L526.7,546.9 L528.0,547.1 L529.2,547.3 L530.5,547.6 L531.7,547.8 L532.9,548.0 L534.2,548.3 L535.4,548.5 L536.7,548.7 L537.9,549.0 L539.1,549.2 L540.4,549.4 L541.6,549.7 L542.9,549.9 L544.1,550.1 L545.3,550.3 L546.6,550.5 L547.8,550.7 L549.1,550.8 L550.3,551.0 L551.5,551.2 L552.8,551.4 L554.0,551.5 L555.3,551.7 L556.5,551.8 L557.7,552.0 L559.0,552.1 L560.2,552.3 L561.5,552.4 L562.7,552.5 L563.9,552.7 L565.2,552.8 L566.4,552.9 L567.7,553.1 L568.9,553.2 L570.1,553.3 L571.4,553.5 L572.6,553.6 L573.9,553.7 L575.1,553.9 L576.3,554.0 L577.6,554.1 L578.8,554.3 L580.1,554.4 L581.3,554.5 L582.5,554.7 L583.8,554.8 L585.0,554.9 L586.3,555.0 L587.5,555.2 L588.7,555.3 L590.0,555.4 L591.2,555.5 L592.5,555.7 L593.7,555.8 L594.9,555.9 L596.2,556.0 L597.4,556.1 L598.7,556.2 L599.9,556.3 L601.1,556.4 L602.4,556.6 L603.6,556.7 L604.9,556.8 L606.1,556.9 L607.3,557.0 L608.6,557.1 L609.8,557.2 L611.1,557.3 L612.3,557.4 L613.6,557.4 L614.8,557.5 L616.0,557.6 L617.3,557.7 L618.5,557.8 L619.8,557.9 L621.0,558.0 L622.2,558.1 L623.5,558.2 L624.7,558.3 L626.0,558.4 L627.2,558.4 L628.4,558.5 L629.7,558.6 L630.9,558.7 L632.2,558.8 L633.4,558.9 L634.6,558.9 L635.9,559.0 L637.1,559.1 L638.4,559.4 L639.6,559.9 L640.8,559.6 L642.1,559.4 L643.3,559.5 L644.6,559.6 L645.8,559.7 L647.0,559.7 L648.3,559.8 L649.5,559.9 L650.8,559.9 L652.0,560.0 L653.2,560.1 L654.5,560.1 L655.7,560.2 L657.0,560.3 L658.2,560.3 L659.4,560.4 L660.7,560.5 L661.9,560.5 L663.2,560.6 L664.4,560.7 L665.6,560.7 L666.9,560.8 L668.1,560.9 L669.4,560.9 L670.6,561.0" fill="none" stroke="#111" stroke-width="1.8" stroke-dasharray="12.3 6.2" stroke-linejoin="round"/>
<path d="M50.5,482.4 L51.7,484.7 L53.0,487.0 L54.2,489.2 L55.5,491.4 L56.7,493.6 L57.9,495.6 L59.2,497.6 L60.4,499.6 L61.7,501.5 L62.9,503.3 L64.1,505.1 L65.4,506.8 L66.6,508.5 L67.9,510.1 L69.1,511.5 L70.3,512.7 L71.6,513.8 L72.8,514.9 L74.1,515.8 L75.3,516.7 L76.5,517.5 L77.8,518.3 L79.0,518.9 L80.3,519.4 L81.5,519.6 L82.7,519.6 L84.0,519.2 L85.2,518.5 L86.5,517.7 L87.7,516.7 L88.9,515.4 L90.2,513.7 L91.4,511.9 L92.7,509.8 L93.9,507.7 L95.1,505.5 L96.4,503.2 L97.6,500.7 L98.9,498.2 L100.1,495.6 L101.3,492.8 L102.6,490.1 L103.8,487.2 L105.1,484.3 L106.3,481.4 L107.5,478.5 L108.8,475.6 L110.0,472.6 L111.3,469.6 L112.5,466.5 L113.8,463.3 L115.0,460.0 L116.2,456.6 L117.5,453.2 L118.7,449.7 L120.0,446.2 L121.2,442.8 L122.4,439.4 L123.7,436.0 L124.9,432.8 L126.2,429.6 L127.4,426.5 L128.6,423.5 L129.9,420.5 L131.1,417.5 L132.4,414.7 L133.6,411.8 L134.8,409.0 L136.1,406.2 L137.3,403.5 L138.6,400.8 L139.8,398.1 L141.0,395.4 L142.3,392.7 L143.5,390.1 L144.8,387.5 L146.0,384.9 L147.2,382.4 L148.5,379.9 L149.7,377.4 L151.0,375.0 L152.2,372.6 L153.4,370.2 L154.7,367.9 L155.9,365.6 L157.2,363.3 L158.4,361.1 L159.6,359.0 L160.9,356.9 L162.1,354.9 L163.4,352.9 L164.6,351.0 L165.8,349.1 L167.1,347.3 L168.3,345.5 L169.6,343.8 L170.8,342.2 L172.0,340.6 L173.3,339.1 L174.5,337.7 L175.8,336.4 L177.0,335.1 L178.2,333.8 L179.5,332.6 L180.7,331.4 L182.0,330.4 L183.2,329.4 L184.4,328.5 L185.7,327.7 L186.9,327.0 L188.2,326.4 L189.4,325.8 L190.6,325.3 L191.9,324.9 L193.1,324.5 L194.4,324.1 L195.6,323.8 L196.8,323.6 L198.1,323.5 L199.3,323.4 L200.6,323.3 L201.8,323.3 L203.0,323.4 L204.3,323.5 L205.5,323.6 L206.8,323.7 L208.0,324.0 L209.2,324.2 L210.5,324.5 L211.7,324.8 L213.0,325.2 L214.2,325.7 L215.4,326.2 L216.7,326.9 L217.9,327.6 L219.2,328.4 L220.4,329.3 L221.6,330.2 L222.9,331.2 L224.1,332.2 L225.4,333.3 L226.6,334.5 L227.8,335.8 L229.1,337.1 L230.3,338.5 L231.6,340.0 L232.8,341.5 L234.0,342.9 L235.3,344.4 L236.5,345.9 L237.8,347.4 L239.0,348.8 L240.3,350.3 L241.5,351.8 L242.7,353.3 L244.0,354.8 L245.2,356.3 L246.5,357.8 L247.7,359.3 L248.9,360.8 L250.2,362.4 L251.4,363.9 L252.7,365.5 L253.9,367.0 L255.1,368.6 L256.4,370.2 L257.6,371.8 L258.9,373.4 L260.1,375.0 L261.3,376.6 L262.6,378.2 L263.8,379.8 L265.1,381.3 L266.3,382.9 L267.5,384.4 L268.8,385.9 L270.0,387.4 L271.3,388.9 L272.5,390.3 L273.7,391.8 L275.0,393.2 L276.2,394.5 L277.5,395.9 L278.7,397.2 L279.9,398.6 L281.2,399.9 L282.4,401.1 L283.7,402.4 L284.9,403.7 L286.1,404.9 L287.4,406.1 L288.6,407.3 L289.9,408.5 L291.1,409.7 L292.3,410.9 L293.6,412.1 L294.8,413.2 L296.1,414.4 L297.3,415.5 L298.5,416.6 L299.8,417.8 L301.0,418.9 L302.3,420.0 L303.5,421.1 L304.7,422.2 L306.0,423.3 L307.2,424.4 L308.5,425.5 L309.7,426.5 L310.9,427.6 L312.2,428.6 L313.4,429.7 L314.7,430.7 L315.9,431.8 L317.1,432.9 L318.4,434.7 L319.6,435.7 L320.9,435.7 L322.1,436.1 L323.3,437.6 L324.6,439.1 L325.8,440.1 L327.1,440.7 L328.3,441.6 L329.5,442.5 L330.8,443.4 L332.0,444.3 L333.3,445.3 L334.5,446.1 L335.7,447.0 L337.0,447.9 L338.2,448.8 L339.5,449.6 L340.7,450.4 L341.9,451.2 L343.2,452.1 L344.4,452.8 L345.7,453.6 L346.9,454.4 L348.1,455.1 L349.4,455.8 L350.6,456.5 L351.9,457.2 L353.1,457.9 L354.3,458.5 L355.6,459.2 L356.8,459.8 L358.1,460.5 L359.3,461.1 L360.6,461.7 L361.8,462.3 L363.0,462.9 L364.3,463.5 L365.5,464.1 L366.8,464.8 L368.0,465.4 L369.2,466.0 L370.5,466.6 L371.7,467.3 L373.0,467.9 L374.2,468.6 L375.4,469.2 L376.7,469.9 L377.9,470.6 L379.2,471.3 L380.4,472.0 L381.6,472.7 L382.9,473.4 L384.1,474.1 L385.4,474.8 L386.6,475.5 L387.8,476.2 L389.1,476.9 L390.3,477.6 L391.6,478.2 L392.8,478.9 L394.0,479.6 L395.3,480.2 L396.5,480.9 L397.8,481.5 L399.0,482.1 L400.2,482.8 L401.5,483.4 L402.7,484.0 L404.0,484.5 L405.2,485.1 L406.4,485.7 L407.7,486.3 L408.9,486.8 L410.2,487.4 L411.4,487.9 L412.6,488.5 L413.9,489.0 L415.1,489.5 L416.4,490.1 L417.6,490.6 L418.8,491.1 L420.1,491.6 L421.3,492.2 L422.6,492.7 L423.8,493.2 L425.0,493.7 L426.3,494.2 L427.5,494.7 L428.8,495.3 L430.0,495.8 L431.2,496.3 L432.5,496.8 L433.7,497.3 L435.0,497.8 L436.2,498.3 L437.4,498.8 L438.7,499.3 L439.9,499.8 L441.2,500.2 L442.4,500.7 L443.6,501.2 L444.9,501.7 L446.1,502.2 L447.4,502.6 L448.6,503.1 L449.8,503.6 L451.1,504.0 L452.3,504.5 L453.6,504.9 L454.8,505.4 L456.0,505.8 L457.3,506.3 L458.5,506.7 L459.8,507.1 L461.0,507.6 L462.2,508.0 L463.5,508.4 L464.7,508.9 L466.0,509.3 L467.2,509.7 L468.4,510.1 L469.7,510.5 L470.9,511.0 L472.2,511.4 L473.4,511.8 L474.6,512.2 L475.9,512.6 L477.1,513.0 L478.4,513.3 L479.6,513.7 L480.8,514.1 L482.1,514.5 L483.3,514.9 L484.6,515.3 L485.8,515.6 L487.1,516.0 L488.3,516.3 L489.5,516.7 L490.8,517.1 L492.0,517.4 L493.3,517.8 L494.5,518.1 L495.7,518.4 L497.0,518.8 L498.2,519.1 L499.5,519.4 L500.7,519.7 L501.9,520.0 L503.2,520.3 L504.4,520.6 L505.7,520.9 L506.9,521.2 L508.1,521.5 L509.4,521.8 L510.6,522.1 L511.9,522.4 L513.1,522.7 L514.3,523.0 L515.6,523.3 L516.8,523.6 L518.1,524.0 L519.3,524.3 L520.5,524.6 L521.8,525.0 L523.0,525.3 L524.3,525.7 L525.5,526.0 L526.7,526.4 L528.0,526.8 L529.2,527.1 L530.5,527.5 L531.7,527.9 L532.9,528.3 L534.2,528.7 L535.4,529.1 L536.7,529.5 L537.9,529.8 L539.1,530.2 L540.4,530.6 L541.6,531.0 L542.9,531.3 L544.1,531.7 L545.3,532.0 L546.6,532.4 L547.8,532.7 L549.1,533.0 L550.3,533.3 L551.5,533.6 L552.8,533.9 L554.0,534.2 L555.3,534.5 L556.5,534.8 L557.7,535.1 L559.0,535.3 L560.2,535.6 L561.5,535.9 L562.7,536.1 L563.9,536.4 L565.2,536.6 L566.4,536.9 L567.7,537.1 L568.9,537.4 L570.1,537.6 L571.4,537.9 L572.6,538.1 L573.9,538.4 L575.1,538.6 L576.3,538.8 L577.6,539.1 L578.8,539.3 L580.1,539.6 L581.3,539.8 L582.5,540.0 L583.8,540.2 L585.0,540.5 L586.3,540.7 L587.5,540.9 L588.7,541.1 L590.0,541.4 L591.2,541.6 L592.5,541.8 L593.7,542.0 L594.9,542.2 L596.2,542.4 L597.4,542.6 L598.7,542.8 L599.9,543.0 L601.1,543.2 L602.4,543.4 L603.6,543.6 L604.9,543.8 L606.1,544.0 L607.3,544.2 L608.6,544.4 L609.8,544.6 L611.1,544.7 L612.3,544.9 L613.6,545.1 L614.8,545.3 L616.0,545.4 L617.3,545.6 L618.5,545.7 L619.8,545.9 L621.0,546.1 L622.2,546.2 L623.5,546.4 L624.7,546.5 L626.0,546.6 L627.2,546.8 L628.4,546.9 L629.7,547.1 L630.9,547.2 L632.2,547.3 L633.4,547.4 L634.6,547.6 L635.9,547.7 L637.1,547.8 L638.4,548.2 L639.6,548.7 L640.8,548.4 L642.1,548.3 L643.3,548.4 L644.6,548.5 L645.8,548.6 L647.0,548.7 L648.3,548.8 L649.5,548.9 L650.8,549.0 L652.0,549.1 L653.2,549.2 L654.5,549.3 L655.7,549.4 L657.0,549.5 L658.2,549.6 L659.4,549.7 L660.7,549.8 L661.9,549.9 L663.2,550.0 L664.4,550.1 L665.6,550.1 L666.9,550.2 L668.1,550.3 L669.4,550.4 L670.6,550.5" fill="none" stroke="#111" stroke-width="1.8" stroke-dasharray="12.3 5.6 1.7 4.6 1.7 5.85" stroke-linejoin="round"/>
<path d="M50.5,486.9 L51.7,489.1 L53.0,491.2 L54.2,493.3 L55.5,495.3 L56.7,497.3 L57.9,499.2 L59.2,501.1 L60.4,502.9 L61.7,504.6 L62.9,506.3 L64.1,507.9 L65.4,509.4 L66.6,510.9 L67.9,512.4 L69.1,513.7 L70.3,514.9 L71.6,516.1 L72.8,517.2 L74.1,518.1 L75.3,519.0 L76.5,519.7 L77.8,520.4 L79.0,521.0 L80.3,521.3 L81.5,521.5 L82.7,521.5 L84.0,521.3 L85.2,520.9 L86.5,520.3 L87.7,519.6 L88.9,518.8 L90.2,517.7 L91.4,516.3 L92.7,514.8 L93.9,513.0 L95.1,511.0 L96.4,508.8 L97.6,506.3 L98.9,503.7 L100.1,501.1 L101.3,498.4 L102.6,495.6 L103.8,492.8 L105.1,489.9 L106.3,486.9 L107.5,483.9 L108.8,480.9 L110.0,477.8 L111.3,474.7 L112.5,471.5 L113.8,468.2 L115.0,464.9 L116.2,461.5 L117.5,458.1 L118.7,454.7 L120.0,451.3 L121.2,447.9 L122.4,444.5 L123.7,441.1 L124.9,437.8 L126.2,434.4 L127.4,431.2 L128.6,427.9 L129.9,424.7 L131.1,421.5 L132.4,418.3 L133.6,415.1 L134.8,412.0 L136.1,408.8 L137.3,405.7 L138.6,402.6 L139.8,399.5 L141.0,396.4 L142.3,393.3 L143.5,390.3 L144.8,387.2 L146.0,384.3 L147.2,381.3 L148.5,378.5 L149.7,375.6 L151.0,372.9 L152.2,370.2 L153.4,367.5 L154.7,364.9 L155.9,362.3 L157.2,359.8 L158.4,357.3 L159.6,355.0 L160.9,352.7 L162.1,350.4 L163.4,348.3 L164.6,346.2 L165.8,344.1 L167.1,342.1 L168.3,340.2 L169.6,338.4 L170.8,336.6 L172.0,334.9 L173.3,333.2 L174.5,331.7 L175.8,330.1 L177.0,328.7 L178.2,327.3 L179.5,325.9 L180.7,324.6 L182.0,323.3 L183.2,322.2 L184.4,321.1 L185.7,320.1 L186.9,319.2 L188.2,318.3 L189.4,317.5 L190.6,316.7 L191.9,316.0 L193.1,315.4 L194.4,314.9 L195.6,314.5 L196.8,314.2 L198.1,314.0 L199.3,314.0 L200.6,314.1 L201.8,314.4 L203.0,314.9 L204.3,315.5 L205.5,316.2 L206.8,317.0 L208.0,317.8 L209.2,318.7 L210.5,319.6 L211.7,320.5 L213.0,321.4 L214.2,322.4 L215.4,323.4 L216.7,324.4 L217.9,325.5 L219.2,326.6 L220.4,327.8 L221.6,329.0 L222.9,330.3 L224.1,331.7 L225.4,333.1 L226.6,334.6 L227.8,336.1 L229.1,337.8 L230.3,339.4 L231.6,341.2 L232.8,342.9 L234.0,344.7 L235.3,346.5 L236.5,348.2 L237.8,350.0 L239.0,351.8 L240.3,353.6 L241.5,355.4 L242.7,357.2 L244.0,359.1 L245.2,360.9 L246.5,362.8 L247.7,364.6 L248.9,366.5 L250.2,368.3 L251.4,370.2 L252.7,372.1 L253.9,374.0 L255.1,375.9 L256.4,377.7 L257.6,379.6 L258.9,381.5 L260.1,383.4 L261.3,385.3 L262.6,387.1 L263.8,389.0 L265.1,390.8 L266.3,392.6 L267.5,394.5 L268.8,396.3 L270.0,398.1 L271.3,399.9 L272.5,401.7 L273.7,403.5 L275.0,405.3 L276.2,407.0 L277.5,408.8 L278.7,410.5 L279.9,412.3 L281.2,414.0 L282.4,415.7 L283.7,417.3 L284.9,419.0 L286.1,420.6 L287.4,422.2 L288.6,423.8 L289.9,425.3 L291.1,426.9 L292.3,428.4 L293.6,429.9 L294.8,431.4 L296.1,432.8 L297.3,434.3 L298.5,435.8 L299.8,437.2 L301.0,438.7 L302.3,440.1 L303.5,441.5 L304.7,443.0 L306.0,444.4 L307.2,445.8 L308.5,447.2 L309.7,448.5 L310.9,449.9 L312.2,451.3 L313.4,452.6 L314.7,453.9 L315.9,455.2 L317.1,456.6 L318.4,458.7 L319.6,460.0 L320.9,460.1 L322.1,460.8 L323.3,462.4 L324.6,464.2 L325.8,465.3 L327.1,466.0 L328.3,467.0 L329.5,468.1 L330.8,469.1 L332.0,470.1 L333.3,471.1 L334.5,472.1 L335.7,473.0 L337.0,473.9 L338.2,474.9 L339.5,475.8 L340.7,476.6 L341.9,477.5 L343.2,478.4 L344.4,479.2 L345.7,480.1 L346.9,480.9 L348.1,481.7 L349.4,482.6 L350.6,483.4 L351.9,484.2 L353.1,485.0 L354.3,485.8 L355.6,486.6 L356.8,487.4 L358.1,488.2 L359.3,489.0 L360.6,489.8 L361.8,490.6 L363.0,491.4 L364.3,492.2 L365.5,493.0 L366.8,493.8 L368.0,494.6 L369.2,495.4 L370.5,496.2 L371.7,496.9 L373.0,497.7 L374.2,498.4 L375.4,499.1 L376.7,499.8 L377.9,500.5 L379.2,501.1 L380.4,501.8 L381.6,502.5 L382.9,503.1 L384.1,503.8 L385.4,504.4 L386.6,505.0 L387.8,505.6 L389.1,506.3 L390.3,506.9 L391.6,507.5 L392.8,508.1 L394.0,508.7 L395.3,509.2 L396.5,509.8 L397.8,510.4 L399.0,510.9 L400.2,511.4 L401.5,512.0 L402.7,512.5 L404.0,513.0 L405.2,513.5 L406.4,514.0 L407.7,514.5 L408.9,515.0 L410.2,515.4 L411.4,515.9 L412.6,516.4 L413.9,516.8 L415.1,517.3 L416.4,517.7 L417.6,518.2 L418.8,518.6 L420.1,519.0 L421.3,519.4 L422.6,519.9 L423.8,520.3 L425.0,520.7 L426.3,521.1 L427.5,521.5 L428.8,521.9 L430.0,522.3 L431.2,522.6 L432.5,523.0 L433.7,523.4 L435.0,523.7 L436.2,524.1 L437.4,524.4 L438.7,524.7 L439.9,525.1 L441.2,525.4 L442.4,525.7 L443.6,526.0 L444.9,526.3 L446.1,526.6 L447.4,526.9 L448.6,527.2 L449.8,527.6 L451.1,527.9 L452.3,528.2 L453.6,528.5 L454.8,528.8 L456.0,529.1 L457.3,529.4 L458.5,529.7 L459.8,530.0 L461.0,530.3 L462.2,530.6 L463.5,530.9 L464.7,531.2 L466.0,531.5 L467.2,531.7 L468.4,532.0 L469.7,532.3 L470.9,532.6 L472.2,532.9 L473.4,533.2 L474.6,533.5 L475.9,533.8 L477.1,534.1 L478.4,534.3 L479.6,534.6 L480.8,534.9 L482.1,535.2 L483.3,535.5 L484.6,535.7 L485.8,536.0 L487.1,536.3 L488.3,536.5 L489.5,536.8 L490.8,537.1 L492.0,537.3 L493.3,537.6 L494.5,537.8 L495.7,538.1 L497.0,538.3 L498.2,538.6 L499.5,538.8 L500.7,539.0 L501.9,539.3 L503.2,539.5 L504.4,539.7 L505.7,539.9 L506.9,540.1 L508.1,540.4 L509.4,540.6 L510.6,540.8 L511.9,541.0 L513.1,541.2 L514.3,541.4 L515.6,541.7 L516.8,541.9 L518.1,542.1 L519.3,542.3 L520.5,542.5 L521.8,542.7 L523.0,543.0 L524.3,543.2 L525.5,543.4 L526.7,543.7 L528.0,543.9 L529.2,544.1 L530.5,544.4 L531.7,544.6 L532.9,544.8 L534.2,545.1 L535.4,545.3 L536.7,545.5 L537.9,545.8 L539.1,546.0 L540.4,546.2 L541.6,546.4 L542.9,546.6 L544.1,546.9 L545.3,547.1 L546.6,547.3 L547.8,547.5 L549.1,547.7 L550.3,547.9 L551.5,548.1 L552.8,548.3 L554.0,548.4 L555.3,548.6 L556.5,548.8 L557.7,549.0 L559.0,549.2 L560.2,549.3 L561.5,549.5 L562.7,549.7 L563.9,549.9 L565.2,550.0 L566.4,550.2 L567.7,550.3 L568.9,550.5 L570.1,550.7 L571.4,550.8 L572.6,551.0 L573.9,551.1 L575.1,551.3 L576.3,551.4 L577.6,551.6 L578.8,551.7 L580.1,551.9 L581.3,552.0 L582.5,552.1 L583.8,552.3 L585.0,552.4 L586.3,552.6 L587.5,552.7 L588.7,552.8 L590.0,552.9 L591.2,553.1 L592.5,553.2 L593.7,553.3 L594.9,553.5 L596.2,553.6 L597.4,553.7 L598.7,553.8 L599.9,553.9 L601.1,554.0 L602.4,554.2 L603.6,554.3 L604.9,554.4 L606.1,554.5 L607.3,554.6 L608.6,554.7 L609.8,554.8 L611.1,554.9 L612.3,555.0 L613.6,555.1 L614.8,555.2 L616.0,555.3 L617.3,555.4 L618.5,555.5 L619.8,555.6 L621.0,555.7 L622.2,555.8 L623.5,555.9 L624.7,555.9 L626.0,556.0 L627.2,556.1 L628.4,556.2 L629.7,556.3 L630.9,556.3 L632.2,556.4 L633.4,556.5 L634.6,556.6 L635.9,556.7 L637.1,556.7 L638.4,557.0 L639.6,557.5 L640.8,557.2 L642.1,557.0 L643.3,557.1 L644.6,557.2 L645.8,557.2 L647.0,557.3 L648.3,557.4 L649.5,557.4 L650.8,557.5 L652.0,557.5 L653.2,557.6 L654.5,557.7 L655.7,557.7 L657.0,557.8 L658.2,557.9 L659.4,557.9 L660.7,558.0 L661.9,558.0 L663.2,558.1 L664.4,558.2 L665.6,558.2 L666.9,558.3 L668.1,558.3 L669.4,558.4 L670.6,558.4" fill="none" stroke="#6e1d1d" stroke-width="1.6" stroke-linejoin="round"/>
<path d="M197.9 610.3 V890.5" stroke="#222" stroke-width="1.0" fill="none"/>
<path d="M50.5,794.7 L51.7,797.1 L53.0,799.3 L54.2,801.6 L55.5,803.8 L56.7,806.0 L58.0,808.2 L59.2,810.3 L60.4,812.4 L61.7,814.4 L62.9,816.2 L64.2,818.0 L65.4,819.6 L66.7,821.1 L67.9,822.6 L69.1,824.0 L70.4,825.3 L71.6,826.6 L72.9,827.8 L74.1,828.8 L75.3,829.7 L76.6,830.4 L77.8,831.0 L79.1,831.5 L80.3,831.8 L81.6,831.8 L82.8,831.7 L84.0,831.3 L85.3,830.9 L86.5,830.3 L87.8,829.6 L89.0,828.7 L90.3,827.6 L91.5,826.3 L92.7,824.9 L94.0,823.4 L95.2,821.7 L96.5,819.8 L97.7,817.6 L99.0,815.2 L100.2,812.6 L101.4,809.6 L102.7,806.2 L103.9,802.7 L105.2,799.0 L106.4,795.5 L107.7,792.0 L108.9,788.5 L110.1,785.1 L111.4,781.7 L112.6,778.2 L113.9,774.8 L115.1,771.4 L116.4,767.9 L117.6,764.5 L118.8,761.0 L120.1,757.5 L121.3,754.0 L122.6,750.5 L123.8,747.0 L125.0,743.5 L126.3,740.0 L127.5,736.5 L128.8,733.0 L130.0,729.6 L131.3,726.1 L132.5,722.6 L133.7,719.2 L135.0,715.8 L136.2,712.4 L137.5,709.1 L138.7,705.8 L140.0,702.6 L141.2,699.4 L142.4,696.2 L143.7,693.0 L144.9,689.9 L146.2,686.9 L147.4,683.8 L148.7,680.8 L149.9,677.8 L151.1,674.9 L152.4,672.0 L153.6,669.1 L154.9,666.2 L156.1,663.4 L157.4,660.6 L158.6,657.9 L159.8,655.2 L161.1,652.6 L162.3,650.0 L163.6,647.6 L164.8,645.1 L166.1,642.8 L167.3,640.4 L168.5,638.2 L169.8,636.0 L171.0,633.9 L172.3,631.9 L173.5,630.0 L174.8,628.2 L176.0,626.5 L177.2,624.8 L178.5,623.2 L179.7,621.7 L181.0,620.2 L182.2,618.9 L183.4,617.6 L184.7,616.4 L185.9,615.4 L187.2,614.4 L188.4,613.5 L189.7,612.7 L190.9,611.9 L192.1,611.3 L193.4,610.6 L194.6,610.1 L195.9,609.7 L197.1,609.5 L198.4,609.3 L199.6,609.3 L200.8,609.5 L202.1,609.8 L203.3,610.2 L204.6,610.8 L205.8,611.5 L207.1,612.3 L208.3,613.2 L209.5,614.1 L210.8,615.0 L212.0,616.0 L213.3,616.9 L214.5,617.9 L215.8,619.0 L217.0,620.1 L218.2,621.3 L219.5,622.5 L220.7,623.8 L222.0,625.1 L223.2,626.5 L224.4,628.0 L225.7,629.5 L226.9,631.1 L228.2,632.8 L229.4,634.5 L230.7,636.3 L231.9,638.2 L233.1,640.1 L234.4,642.0 L235.6,643.9 L236.9,645.8 L238.1,647.7 L239.4,649.6 L240.6,651.5 L241.8,653.5 L243.1,655.5 L244.3,657.4 L245.6,659.4 L246.8,661.4 L248.1,663.4 L249.3,665.4 L250.5,667.4 L251.8,669.4 L253.0,671.4 L254.3,673.4 L255.5,675.5 L256.8,677.5 L258.0,679.5 L259.2,681.5 L260.5,683.6 L261.7,685.6 L263.0,687.6 L264.2,689.6 L265.5,691.5 L266.7,693.5 L267.9,695.5 L269.2,697.4 L270.4,699.4 L271.7,701.3 L272.9,703.3 L274.1,705.2 L275.4,707.1 L276.6,709.0 L277.9,710.9 L279.1,712.7 L280.4,714.6 L281.6,716.4 L282.8,718.3 L284.1,720.1 L285.3,721.8 L286.6,723.6 L287.8,725.3 L289.1,727.0 L290.3,728.7 L291.5,730.3 L292.8,731.9 L294.0,733.5 L295.3,735.1 L296.5,736.7 L297.8,738.3 L299.0,739.9 L300.2,741.4 L301.5,743.0 L302.7,744.5 L304.0,746.1 L305.2,747.6 L306.5,749.1 L307.7,750.6 L308.9,752.1 L310.2,753.6 L311.4,755.1 L312.7,756.5 L313.9,758.0 L315.2,759.4 L316.4,760.8 L317.6,762.3 L318.9,764.6 L320.1,765.9 L321.4,766.1 L322.6,766.8 L323.8,768.5 L325.1,770.4 L326.3,771.6 L327.6,772.4 L328.8,773.5 L330.1,774.6 L331.3,775.7 L332.5,776.8 L333.8,777.8 L335.0,778.9 L336.3,779.9 L337.5,780.9 L338.8,781.9 L340.0,782.9 L341.2,783.8 L342.5,784.7 L343.7,785.7 L345.0,786.6 L346.2,787.5 L347.5,788.4 L348.7,789.3 L349.9,790.2 L351.2,791.1 L352.4,791.9 L353.7,792.8 L354.9,793.7 L356.2,794.5 L357.4,795.4 L358.6,796.2 L359.9,797.1 L361.1,798.0 L362.4,798.8 L363.6,799.7 L364.9,800.5 L366.1,801.4 L367.3,802.3 L368.6,803.1 L369.8,804.0 L371.1,804.8 L372.3,805.6 L373.6,806.4 L374.8,807.2 L376.0,807.9 L377.3,808.7 L378.5,809.4 L379.8,810.1 L381.0,810.9 L382.2,811.6 L383.5,812.3 L384.7,813.0 L386.0,813.6 L387.2,814.3 L388.5,815.0 L389.7,815.6 L390.9,816.3 L392.2,817.0 L393.4,817.6 L394.7,818.2 L395.9,818.8 L397.2,819.5 L398.4,820.1 L399.6,820.6 L400.9,821.2 L402.1,821.8 L403.4,822.3 L404.6,822.9 L405.9,823.4 L407.1,824.0 L408.3,824.5 L409.6,825.0 L410.8,825.5 L412.1,826.0 L413.3,826.5 L414.6,827.0 L415.8,827.5 L417.0,828.0 L418.3,828.4 L419.5,828.9 L420.8,829.4 L422.0,829.8 L423.2,830.3 L424.5,830.7 L425.7,831.2 L427.0,831.6 L428.2,832.0 L429.5,832.4 L430.7,832.8 L431.9,833.3 L433.2,833.7 L434.4,834.0 L435.7,834.4 L436.9,834.8 L438.2,835.2 L439.4,835.5 L440.6,835.9 L441.9,836.2 L443.1,836.5 L444.4,836.9 L445.6,837.2 L446.9,837.5 L448.1,837.9 L449.3,838.2 L450.6,838.5 L451.8,838.9 L453.1,839.2 L454.3,839.5 L455.6,839.8 L456.8,840.2 L458.0,840.5 L459.3,840.8 L460.5,841.1 L461.8,841.5 L463.0,841.8 L464.3,842.1 L465.5,842.4 L466.7,842.7 L468.0,843.0 L469.2,843.4 L470.5,843.7 L471.7,844.0 L472.9,844.3 L474.2,844.6 L475.4,844.9 L476.7,845.2 L477.9,845.5 L479.2,845.8 L480.4,846.1 L481.6,846.4 L482.9,846.7 L484.1,847.0 L485.4,847.3 L486.6,847.6 L487.9,847.9 L489.1,848.2 L490.3,848.5 L491.6,848.8 L492.8,849.0 L494.1,849.3 L495.3,849.6 L496.6,849.8 L497.8,850.1 L499.0,850.4 L500.3,850.6 L501.5,850.9 L502.8,851.1 L504.0,851.4 L505.3,851.6 L506.5,851.8 L507.7,852.1 L509.0,852.3 L510.2,852.5 L511.5,852.8 L512.7,853.0 L514.0,853.2 L515.2,853.5 L516.4,853.7 L517.7,853.9 L518.9,854.1 L520.2,854.4 L521.4,854.6 L522.6,854.9 L523.9,855.1 L525.1,855.3 L526.4,855.6 L527.6,855.8 L528.9,856.1 L530.1,856.3 L531.3,856.6 L532.6,856.8 L533.8,857.1 L535.1,857.3 L536.3,857.6 L537.6,857.8 L538.8,858.1 L540.0,858.3 L541.3,858.6 L542.5,858.8 L543.8,859.1 L545.0,859.3 L546.3,859.5 L547.5,859.7 L548.7,859.9 L550.0,860.2 L551.2,860.4 L552.5,860.6 L553.7,860.8 L555.0,861.0 L556.2,861.2 L557.4,861.4 L558.7,861.6 L559.9,861.8 L561.2,862.0 L562.4,862.1 L563.7,862.3 L564.9,862.5 L566.1,862.7 L567.4,862.9 L568.6,863.0 L569.9,863.2 L571.1,863.4 L572.4,863.5 L573.6,863.7 L574.8,863.9 L576.1,864.0 L577.3,864.2 L578.6,864.3 L579.8,864.5 L581.0,864.7 L582.3,864.8 L583.5,865.0 L584.8,865.1 L586.0,865.3 L587.3,865.4 L588.5,865.5 L589.7,865.7 L591.0,865.8 L592.2,866.0 L593.5,866.1 L594.7,866.2 L596.0,866.4 L597.2,866.5 L598.4,866.6 L599.7,866.8 L600.9,866.9 L602.2,867.0 L603.4,867.1 L604.7,867.2 L605.9,867.4 L607.1,867.5 L608.4,867.6 L609.6,867.7 L610.9,867.8 L612.1,867.9 L613.4,868.0 L614.6,868.2 L615.8,868.3 L617.1,868.4 L618.3,868.5 L619.6,868.6 L620.8,868.7 L622.0,868.8 L623.3,868.9 L624.5,868.9 L625.8,869.0 L627.0,869.1 L628.3,869.2 L629.5,869.3 L630.7,869.4 L632.0,869.5 L633.2,869.6 L634.5,869.7 L635.7,869.7 L637.0,869.8 L638.2,869.9 L639.4,870.2 L640.7,870.8 L641.9,870.4 L643.2,870.2 L644.4,870.3 L645.7,870.4 L646.9,870.4 L648.1,870.5 L649.4,870.6 L650.6,870.6 L651.9,870.7 L653.1,870.8 L654.4,870.8 L655.6,870.9 L656.8,871.0 L658.1,871.0 L659.3,871.1 L660.6,871.2 L661.8,871.2 L663.1,871.3 L664.3,871.4 L665.5,871.4 L666.8,871.5 L668.0,871.5 L669.3,871.6 L670.5,871.7 L671.8,871.7" fill="none" stroke="#6e1d1d" stroke-width="1.6" stroke-linejoin="round"/>
<text transform="rotate(0.05 194.6 603.6)" x="194.6" y="603.6" font-size="12.7" font-weight="bold" text-anchor="middle" fill="#111">420 nm</text>
<rect x="52.1" y="262.4" width="23.4" height="20.2" fill="#fff" stroke="#333" stroke-width="1.1" rx="1"/><text transform="rotate(0.05 62.6 279.3)" x="62.6" y="279.3" font-size="22.5" font-weight="bold" text-anchor="middle" fill="#000">a</text>
<rect x="52.1" y="554.2" width="23.4" height="20.4" fill="#fff" stroke="#333" stroke-width="1.1" rx="1"/><text transform="rotate(0.05 63.5 572.2)" x="63.5" y="572.2" font-size="22.5" font-weight="bold" text-anchor="middle" fill="#000">b</text>
<rect x="52.1" y="868.6" width="23.4" height="19.9" fill="#fff" stroke="#333" stroke-width="1.1" rx="1"/><text transform="rotate(0.05 63.4 886.0)" x="63.4" y="886.0" font-size="22.5" font-weight="bold" text-anchor="middle" fill="#000">c</text>
<path d="M74.7 16.3 H104.0" fill="none" stroke="#111" stroke-width="1.7" stroke-dasharray="1.6 1.6" stroke-linejoin="round"/>
<text transform="rotate(0.05 108.8 21.6)" x="108.8" y="21.6" font-size="15.6" font-weight="bold" fill="#111">pH 6</text>
<path d="M165.7 16.3 H196.4" fill="none" stroke="#111" stroke-width="1.8" stroke-dasharray="4.5 1.9" stroke-linejoin="round"/>
<text transform="rotate(0.05 198.8 21.6)" x="198.8" y="21.6" font-size="15.6" font-weight="bold" fill="#111">pH 7</text>
<path d="M256.2 16.3 H286.2" fill="none" stroke="#111" stroke-width="1.8" stroke-dasharray="12.3 6.2" stroke-linejoin="round"/>
<text transform="rotate(0.05 288.6 21.6)" x="288.6" y="21.6" font-size="15.6" font-weight="bold" fill="#111">pH 8</text>
<path d="M74.7 42.9 H105.0" fill="none" stroke="#6e1d1d" stroke-width="1.6" stroke-linejoin="round"/>
<text transform="rotate(0.05 108.8 47.7)" x="108.8" y="47.7" font-size="15.6" font-weight="bold" fill="#111">pH 9</text>
<path d="M165.7 42.9 H196.0" fill="none" stroke="#111" stroke-width="1.8" stroke-dasharray="12.3 5.6 1.7 4.6 1.7 5.85" stroke-linejoin="round"/>
<text transform="rotate(0.05 198.8 47.7)" x="198.8" y="47.7" font-size="15.6" font-weight="bold" fill="#111">pH 10</text>
<path d="M589.5 446.8 H619.4" fill="none" stroke="#111" stroke-width="1.7" stroke-dasharray="1.6 1.6" stroke-linejoin="round"/>
<text transform="rotate(0.05 621.8 452.4)" x="621.8" y="452.4" font-size="16" font-weight="bold" fill="#111">30 °C</text>
<path d="M589.5 466.7 H619.4" fill="none" stroke="#111" stroke-width="1.8" stroke-dasharray="4.5 1.9" stroke-linejoin="round"/>
<text transform="rotate(0.05 621.8 472.3)" x="621.8" y="472.3" font-size="16" font-weight="bold" fill="#111">40 °C</text>
<path d="M589.5 486.5 H619.4" fill="none" stroke="#111" stroke-width="1.8" stroke-dasharray="12.3 6.2" stroke-linejoin="round"/>
<text transform="rotate(0.05 621.8 492.1)" x="621.8" y="492.1" font-size="16" font-weight="bold" fill="#111">50 °C</text>
<path d="M589.5 506.4 H619.4" fill="none" stroke="#6e1d1d" stroke-width="1.6" stroke-linejoin="round"/>
<text transform="rotate(0.05 621.8 512.0)" x="621.8" y="512.0" font-size="16" font-weight="bold" fill="#111">60 °C</text>
<path d="M589.5 526.2 H619.4" fill="none" stroke="#111" stroke-width="1.8" stroke-dasharray="12.3 5.6 1.7 4.6 1.7 5.85" stroke-linejoin="round"/>
<text transform="rotate(0.05 621.8 531.8)" x="621.8" y="531.8" font-size="16" font-weight="bold" fill="#111">70 °C</text>
<path d="M433.2 7.0 V103.7 H644.0" stroke="#2a2a2a" stroke-width="1.2" fill="none"/>
<path d="M429.5 103.7 H433.2" stroke="#2a2a2a" stroke-width="1.1" fill="none"/>
<text transform="rotate(0.05 422.4 107.4)" x="422.4" y="107.4" font-size="11.5" font-weight="bold" text-anchor="end" fill="#111">0</text>
<path d="M429.5 55.6 H433.2" stroke="#2a2a2a" stroke-width="1.1" fill="none"/>
<text transform="rotate(0.05 422.4 59.3)" x="422.4" y="59.3" font-size="11.5" font-weight="bold" text-anchor="end" fill="#111">1</text>
<path d="M429.5 7.4 H433.2" stroke="#2a2a2a" stroke-width="1.1" fill="none"/>
<text transform="rotate(0.05 422.4 11.1)" x="422.4" y="11.1" font-size="11.5" font-weight="bold" text-anchor="end" fill="#111">2</text>
<path d="M433.2 103.7 V107.3" stroke="#2a2a2a" stroke-width="1.1" fill="none"/>
<text transform="rotate(0.05 433.2 122.8)" x="433.2" y="122.8" font-size="11.5" font-weight="bold" text-anchor="middle" fill="#111">5</text>
<path d="M475.3 103.7 V107.3" stroke="#2a2a2a" stroke-width="1.1" fill="none"/>
<text transform="rotate(0.05 475.3 122.8)" x="475.3" y="122.8" font-size="11.5" font-weight="bold" text-anchor="middle" fill="#111">6</text>
<path d="M517.4 103.7 V107.3" stroke="#2a2a2a" stroke-width="1.1" fill="none"/>
<text transform="rotate(0.05 517.4 122.8)" x="517.4" y="122.8" font-size="11.5" font-weight="bold" text-anchor="middle" fill="#111">7</text>
<path d="M559.5 103.7 V107.3" stroke="#2a2a2a" stroke-width="1.1" fill="none"/>
<text transform="rotate(0.05 559.5 122.8)" x="559.5" y="122.8" font-size="11.5" font-weight="bold" text-anchor="middle" fill="#111">8</text>
<path d="M601.6 103.7 V107.3" stroke="#2a2a2a" stroke-width="1.1" fill="none"/>
<text transform="rotate(0.05 601.6 122.8)" x="601.6" y="122.8" font-size="11.5" font-weight="bold" text-anchor="middle" fill="#111">9</text>
<path d="M643.7 103.7 V107.3" stroke="#2a2a2a" stroke-width="1.1" fill="none"/>
<text transform="rotate(0.05 643.7 122.8)" x="643.7" y="122.8" font-size="11.5" font-weight="bold" text-anchor="middle" fill="#111">10</text>
<text transform="rotate(0.05 538.6 141.8)" x="538.6" y="141.8" font-size="12.4" font-weight="bold" text-anchor="middle" fill="#111">pH</text>
<text transform="translate(408.8 58.3) rotate(-90)" font-size="12.5" font-weight="bold" text-anchor="middle" fill="#111" style="white-space:pre">OD  at 425 nm</text>
<path d="M475.5 56.0L480.1 60.6L475.5 65.2L470.9 60.6Z" fill="#0a0a0a"/>
<path d="M517.4 48.7L522.0 53.3L517.4 57.9L512.8 53.3Z" fill="#0a0a0a"/>
<path d="M560.1 31.0L564.7 35.6L560.1 40.2L555.5 35.6Z" fill="#0a0a0a"/>
<path d="M601.6 8.5L606.2 13.1L601.6 17.7L597.0 13.1Z" fill="#0a0a0a"/>
<path d="M643.9 30.1L648.5 34.7L643.9 39.3L639.3 34.7Z" fill="#0a0a0a"/>
<path d="M431.3 302.2 V405.1 H646.1" stroke="#2a2a2a" stroke-width="1.2" fill="none"/>
<path d="M427.6 405.1 H431.3" stroke="#2a2a2a" stroke-width="1.1" fill="none"/>
<text transform="rotate(0.05 421.4 409.4)" x="421.4" y="409.4" font-size="12" font-weight="bold" text-anchor="end" fill="#111">0</text>
<path d="M427.6 370.9 H431.3" stroke="#2a2a2a" stroke-width="1.1" fill="none"/>
<text transform="rotate(0.05 421.4 375.2)" x="421.4" y="375.2" font-size="12" font-weight="bold" text-anchor="end" fill="#111">1</text>
<path d="M427.6 336.8 H431.3" stroke="#2a2a2a" stroke-width="1.1" fill="none"/>
<text transform="rotate(0.05 421.4 341.1)" x="421.4" y="341.1" font-size="12" font-weight="bold" text-anchor="end" fill="#111">2</text>
<path d="M427.6 302.6 H431.3" stroke="#2a2a2a" stroke-width="1.1" fill="none"/>
<text transform="rotate(0.05 421.4 306.9)" x="421.4" y="306.9" font-size="12" font-weight="bold" text-anchor="end" fill="#111">3</text>
<path d="M431.3 405.1 V408.7" stroke="#2a2a2a" stroke-width="1.1" fill="none"/>
<text transform="rotate(0.05 431.3 424.6)" x="431.3" y="424.6" font-size="12" font-weight="bold" text-anchor="middle" fill="#111">20</text>
<path d="M474.2 405.1 V408.7" stroke="#2a2a2a" stroke-width="1.1" fill="none"/>
<text transform="rotate(0.05 474.2 424.6)" x="474.2" y="424.6" font-size="12" font-weight="bold" text-anchor="middle" fill="#111">30</text>
<path d="M517.1 405.1 V408.7" stroke="#2a2a2a" stroke-width="1.1" fill="none"/>
<text transform="rotate(0.05 517.1 424.6)" x="517.1" y="424.6" font-size="12" font-weight="bold" text-anchor="middle" fill="#111">40</text>
<path d="M560.0 405.1 V408.7" stroke="#2a2a2a" stroke-width="1.1" fill="none"/>
<text transform="rotate(0.05 560.0 424.6)" x="560.0" y="424.6" font-size="12" font-weight="bold" text-anchor="middle" fill="#111">50</text>
<path d="M602.9 405.1 V408.7" stroke="#2a2a2a" stroke-width="1.1" fill="none"/>
<text transform="rotate(0.05 602.9 424.6)" x="602.9" y="424.6" font-size="12" font-weight="bold" text-anchor="middle" fill="#111">60</text>
<path d="M645.8 405.1 V408.7" stroke="#2a2a2a" stroke-width="1.1" fill="none"/>
<text transform="rotate(0.05 645.8 424.6)" x="645.8" y="424.6" font-size="12" font-weight="bold" text-anchor="middle" fill="#111">70</text>
<text transform="rotate(0.05 539.2 435.8)" x="539.2" y="435.8" font-size="12.4" font-weight="bold" text-anchor="middle" fill="#111">Temperature (°C)</text>
<text transform="translate(407.4 357.1) rotate(-90)" font-size="12.45" font-weight="bold" text-anchor="middle" fill="#111">OD at 420 nm</text>
<path d="M473.9 365.7L478.5 370.3L473.9 374.9L469.3 370.3Z" fill="#0a0a0a"/>
<path d="M516.5 340.0L521.1 344.6L516.5 349.2L511.9 344.6Z" fill="#0a0a0a"/>
<path d="M559.3 336.6L563.9 341.2L559.3 345.8L554.7 341.2Z" fill="#0a0a0a"/>
<path d="M602.5 320.5L607.1 325.1L602.5 329.7L597.9 325.1Z" fill="#0a0a0a"/>
<path d="M645.2 323.1L649.8 327.7L645.2 332.3L640.6 327.7Z" fill="#0a0a0a"/>
</g>
<g clip-path="url(#temclip)">
<rect x="514" y="586" width="157" height="153" fill="#d6d6d6"/>
<g filter="url(#b5)">
<ellipse cx="626" cy="655" rx="40" ry="56" fill="#8e8e8e" fill-opacity="0.55"/>
<ellipse cx="640" cy="608" rx="30" ry="20" fill="#969696" fill-opacity="0.45"/>
<ellipse cx="543" cy="665" rx="22" ry="34" fill="#e2e2e2" fill-opacity="0.7"/>
<ellipse cx="590" cy="728" rx="34" ry="10" fill="#e2e2e2" fill-opacity="0.6"/>
<ellipse cx="590" cy="600" rx="20" ry="10" fill="#dddddd" fill-opacity="0.5"/>
</g>
<rect x="514" y="586" width="157" height="153" filter="url(#noiseG)" opacity="0.2"/>
<g filter="url(#b06)">
<circle cx="573.3" cy="593.7" r="3.5" fill="#000" fill-opacity="0.37"/>
<circle cx="591.7" cy="594.5" r="3.7" fill="#000" fill-opacity="0.37"/>
<circle cx="603.5" cy="596.3" r="4.0" fill="#000" fill-opacity="0.41"/>
<circle cx="603.5" cy="587.4" r="2.3" fill="#000" fill-opacity="0.37"/>
<circle cx="619.3" cy="598.4" r="3.5" fill="#000" fill-opacity="0.25"/>
<circle cx="626.7" cy="608.4" r="3.5" fill="#000" fill-opacity="0.37"/>
<circle cx="639.0" cy="612.8" r="7.0" fill="#000" fill-opacity="0.49"/>
<circle cx="650.8" cy="619.4" r="5.6" fill="#000" fill-opacity="0.41"/>
<circle cx="661.9" cy="627.8" r="2.8" fill="#000" fill-opacity="0.29"/>
<circle cx="585.1" cy="609.4" r="2.8" fill="#000" fill-opacity="0.33"/>
<circle cx="613.3" cy="620.7" r="2.8" fill="#000" fill-opacity="0.33"/>
<circle cx="626.4" cy="626.0" r="7.0" fill="#000" fill-opacity="0.41"/>
<circle cx="635.1" cy="629.4" r="3.5" fill="#000" fill-opacity="0.41"/>
<circle cx="575.9" cy="623.4" r="3.1" fill="#000" fill-opacity="0.37"/>
<circle cx="568.1" cy="626.8" r="3.1" fill="#000" fill-opacity="0.33"/>
<circle cx="602.2" cy="629.4" r="5.1" fill="#000" fill-opacity="0.37"/>
<circle cx="616.1" cy="627.3" r="3.5" fill="#000" fill-opacity="0.33"/>
<circle cx="549.5" cy="634.5" r="4.5" fill="#000" fill-opacity="0.41"/>
<circle cx="553.5" cy="633.5" r="3.9" fill="#000" fill-opacity="0.49"/>
<circle cx="633.2" cy="644.4" r="5.0" fill="#000" fill-opacity="0.82"/>
<circle cx="618.0" cy="641.0" r="2.8" fill="#000" fill-opacity="0.37"/>
<circle cx="581.2" cy="643.6" r="4.0" fill="#000" fill-opacity="0.41"/>
<circle cx="587.2" cy="649.1" r="3.7" fill="#000" fill-opacity="0.37"/>
<circle cx="578.6" cy="650.2" r="2.6" fill="#000" fill-opacity="0.33"/>
<circle cx="611.4" cy="647.0" r="2.6" fill="#000" fill-opacity="0.33"/>
<circle cx="619.3" cy="652.3" r="3.5" fill="#000" fill-opacity="0.37"/>
<circle cx="644.3" cy="650.4" r="2.6" fill="#000" fill-opacity="0.33"/>
<circle cx="605.6" cy="658.3" r="3.7" fill="#000" fill-opacity="0.33"/>
<circle cx="618.5" cy="662.8" r="3.5" fill="#000" fill-opacity="0.41"/>
<circle cx="628.0" cy="661.4" r="4.0" fill="#000" fill-opacity="0.37"/>
<circle cx="640.3" cy="661.4" r="4.0" fill="#000" fill-opacity="0.45"/>
<circle cx="649.5" cy="667.2" r="2.8" fill="#000" fill-opacity="0.37"/>
<circle cx="613.3" cy="669.3" r="3.5" fill="#000" fill-opacity="0.45"/>
<circle cx="618.5" cy="676.4" r="3.5" fill="#000" fill-opacity="0.41"/>
<circle cx="611.4" cy="679.3" r="4.0" fill="#000" fill-opacity="0.49"/>
<circle cx="558.9" cy="671.2" r="4.0" fill="#000" fill-opacity="0.41"/>
<circle cx="568.6" cy="669.9" r="4.0" fill="#000" fill-opacity="0.45"/>
<circle cx="600.9" cy="682.5" r="4.2" fill="#000" fill-opacity="0.37"/>
<circle cx="616.7" cy="683.8" r="3.7" fill="#000" fill-opacity="0.41"/>
<circle cx="627.2" cy="681.1" r="3.7" fill="#000" fill-opacity="0.41"/>
<circle cx="640.3" cy="677.7" r="3.7" fill="#000" fill-opacity="0.41"/>
<circle cx="568.1" cy="683.0" r="2.3" fill="#000" fill-opacity="0.29"/>
<circle cx="579.9" cy="685.6" r="2.3" fill="#000" fill-opacity="0.29"/>
<circle cx="534.4" cy="685.1" r="3.1" fill="#000" fill-opacity="0.37"/>
<circle cx="527.3" cy="688.5" r="1.4" fill="#000" fill-opacity="0.25"/>
<circle cx="633.7" cy="687.7" r="2.3" fill="#000" fill-opacity="0.33"/>
<circle cx="641.6" cy="690.3" r="4.2" fill="#000" fill-opacity="0.45"/>
<circle cx="654.0" cy="687.7" r="3.1" fill="#000" fill-opacity="0.37"/>
<circle cx="564.1" cy="694.0" r="3.5" fill="#000" fill-opacity="0.41"/>
<circle cx="564.6" cy="698.0" r="3.2" fill="#000" fill-opacity="0.41"/>
<circle cx="558.9" cy="701.6" r="2.3" fill="#000" fill-opacity="0.33"/>
<circle cx="625.9" cy="695.6" r="2.6" fill="#000" fill-opacity="0.37"/>
<circle cx="628.0" cy="702.2" r="4.2" fill="#000" fill-opacity="0.41"/>
<circle cx="641.6" cy="708.2" r="3.7" fill="#000" fill-opacity="0.41"/>
<circle cx="665.3" cy="710.6" r="2.8" fill="#000" fill-opacity="0.37"/>
<circle cx="569.4" cy="719.2" r="2.8" fill="#000" fill-opacity="0.37"/>
<circle cx="591.7" cy="721.9" r="2.8" fill="#000" fill-opacity="0.37"/>
<circle cx="589.1" cy="714.5" r="1.7" fill="#000" fill-opacity="0.25"/>
<circle cx="619.3" cy="721.3" r="4.5" fill="#000" fill-opacity="0.61"/>
<circle cx="631.9" cy="720.5" r="4.0" fill="#000" fill-opacity="0.49"/>
<circle cx="653.4" cy="717.9" r="2.8" fill="#000" fill-opacity="0.37"/>
<circle cx="666.0" cy="719.8" r="5.1" fill="#000" fill-opacity="0.53"/>
<circle cx="608.3" cy="735.0" r="2.8" fill="#000" fill-opacity="0.41"/>
<circle cx="633.2" cy="644.4" r="3.7" fill="#000"/>
<circle cx="633.2" cy="644.4" r="5.0" fill="none" stroke="#555" stroke-width="0.8" stroke-opacity="0.7"/>
</g>
<g filter="url(#b1)">
<ellipse cx="539.6" cy="727.2" rx="6.8" ry="6.6" fill="#0c0c0c"/>
<ellipse cx="552.6" cy="734.2" rx="5.6" ry="5.2" fill="#1e1e1e"/>
<ellipse cx="545" cy="735" rx="8" ry="4.5" fill="#111"/>
</g>
<rect x="514.3" y="586.8" width="47.4" height="37.1" fill="#101010"/>
<circle cx="540.8" cy="604.0" r="13" fill="url(#glow)"/>
<path d="M514.3 612.2 L539.6 599.4 L543.4 605.6 L514.3 621.0 Z" fill="#050505"/>
<g filter="url(#b03)">
<rect x="519" y="722.6" width="25.4" height="8" fill="#d8d8d8" fill-opacity="0.55" filter="url(#b06)"/>
<text transform="rotate(0.05 519.8 729.5)" x="519.8" y="729.5" font-family="'Liberation Serif', serif" font-weight="bold" font-size="9">50 nm</text>
<rect x="520" y="731.7" width="23.2" height="1.7" fill="#0a0a0a"/>
<rect x="532.5" y="726.0" width="11" height="0.8" fill="#222"/>
</g>
<text transform="rotate(0.05 657.6 605.0)" x="657.6" y="605.0" font-size="17" font-weight="bold" text-anchor="middle" fill="#4a3800" filter="url(#b03)">i</text>
<text transform="rotate(0.05 657.4 604.8)" x="657.4" y="604.8" font-size="17" font-weight="bold" text-anchor="middle" fill="#000" filter="url(#b03)">i</text>
</g>

<g clip-path="url(#flclip)">
<rect x="513" y="739" width="158" height="110" fill="url(#flbg)"/>
<rect x="513" y="739" width="158" height="110" fill="url(#flbgx)"/>
<g filter="url(#b2)">
<ellipse cx="548" cy="847" rx="44" ry="5" fill="#f4f5fa" fill-opacity="0.9"/>
<ellipse cx="640" cy="847" rx="38" ry="3.5" fill="#bdb9cc" fill-opacity="0.7"/>
<ellipse cx="596" cy="790" rx="16" ry="30" fill="#cdc6d8" fill-opacity="0.5"/>
</g>
<!-- left flask -->
<g filter="url(#b1)"><path d="M538.6 774 C535.5 785 519 796 518 818 C517.5 836 529 848.5 549.8 848.5 C570.5 848.5 582.2 836 581.7 818 C580.7 796 564.6 785 561.6 774 Z" fill="none" stroke="#aeb1c6" stroke-width="2.2" stroke-opacity="0.55"/></g>
<g filter="url(#b1)">
<path d="M538.6 774 C535.5 785 519 796 518 818 C517.5 836 529 848.5 549.8 848.5 C570.5 848.5 582.2 836 581.7 818 C580.7 796 564.6 785 561.6 774 Z" fill="#dcdfec" stroke="#f4f5fa" stroke-width="1.8"/>
<path d="M521.5 804 C532 806.5 568 806.5 578.5 804 C584 822 577 848.5 549.8 848.5 C522.5 848.5 516 822 521.5 804 Z" fill="#e3e7f2"/>
<path d="M521.5 803.6 C533 806.4 567 806.4 578.5 803.6" fill="none" stroke="#f3f5fb" stroke-width="2"/>
<path d="M522 801.2 C533 803.2 567 803.2 578 801.2" fill="none" stroke="#b4b7cc" stroke-width="0.9"/>
<path d="M540.5 777 C537.5 787 529 794 524.5 802" fill="none" stroke="#f6f7fc" stroke-width="2.2"/>
<path d="M559.5 777 C562.5 787 567 792 570 799" fill="none" stroke="#f6f7fc" stroke-width="2.6"/>
<path d="M524 810 C521 818 522 826 525 833" fill="none" stroke="#f9fafd" stroke-width="1.8"/>
<path d="M573 808 C577 816 578 824 576 831" fill="none" stroke="#f0f2f9" stroke-width="1.6"/>
<ellipse cx="550" cy="824" rx="16" ry="8" fill="#cfd2e2" fill-opacity="0.5"/>
<ellipse cx="549" cy="841" rx="22" ry="6" fill="#eceef6" fill-opacity="0.8"/>
</g>
<g filter="url(#b06)">
<rect x="538.3" y="751" width="23.4" height="23.6" fill="url(#stop1)"/>
<rect x="535.6" y="746.4" width="30" height="5.4" rx="2" fill="#e0e4d4" stroke="#c5c9c0" stroke-width="0.6"/>
<rect x="542" y="738" width="17.8" height="9" fill="#f0f0e4"/>
<path d="M538.5 774.4 H561.5" stroke="#b2b2c2" stroke-width="1"/>
<path d="M541 756 L558 770 M544 752 L560 764" stroke="#fbfaf2" stroke-width="1.6" stroke-opacity="0.8"/>
</g>
<!-- right flask -->
<g filter="url(#b1)">
<path d="M623.2 773 C620 784 603 796 602 818 C601.5 836 613 848 635 848 C657 848 668.7 836 668.2 818 C667.2 796 650 784 646.6 773 Z" fill="#c4c2cf" stroke="#dddce6" stroke-width="1.2"/>
<path d="M605.5 800.8 C616 802.2 654 802.2 664.8 800.8 C671 822 662 848 635 848 C608 848 599 822 605.5 800.8 Z" fill="url(#brown)"/>
<path d="M625.5 776 C622.5 786 612 793 608.5 799" fill="none" stroke="#f2f2f8" stroke-width="2.2"/>
<path d="M644.5 776 C648.5 786 654 790 657.5 797" fill="none" stroke="#f6f6fb" stroke-width="2.8"/>
<path d="M616 794.5 C626 790.5 640 789.5 652 794.5" fill="none" stroke="#e9e7f0" stroke-width="1.6"/>
<path d="M607 812 C605 822 607 830 611 837" fill="none" stroke="#7f3d22" stroke-width="1.6"/>
<path d="M664 812 C665.5 822 664 830 660 837" fill="none" stroke="#6f321a" stroke-width="1.4"/>
<ellipse cx="634" cy="821" rx="7" ry="5" fill="#3b150a" fill-opacity="0.7"/>
</g>
<g filter="url(#b06)">
<path d="M606 800.3 C617 801.7 653 801.7 664.5 800.3" fill="none" stroke="#2e140b" stroke-width="1.2"/>
<rect x="622.9" y="752" width="23.9" height="21.6" fill="url(#stop1)"/>
<rect x="619.6" y="746.9" width="30.6" height="5.8" rx="2" fill="#dde0d0" stroke="#bfc3ba" stroke-width="0.6"/>
<rect x="626.4" y="738" width="18" height="9.6" fill="#f0f0e4"/>
<path d="M623 773.3 H646.6" stroke="#a5a4b5" stroke-width="1"/>
<path d="M626 757 L643 770 M629 753 L645 765" stroke="#fbfaf2" stroke-width="1.6" stroke-opacity="0.8"/>
</g>
<text transform="rotate(0.05 660.7 756.2)" x="660.7" y="756.2" font-size="16" font-weight="bold" text-anchor="middle" fill="#4a3800" filter="url(#b03)">ii</text>
<text transform="rotate(0.05 660.5 756.0)" x="660.5" y="756.0" font-size="16" font-weight="bold" text-anchor="middle" fill="#000" filter="url(#b03)">ii</text>
</g>

</svg>
</body></html>
